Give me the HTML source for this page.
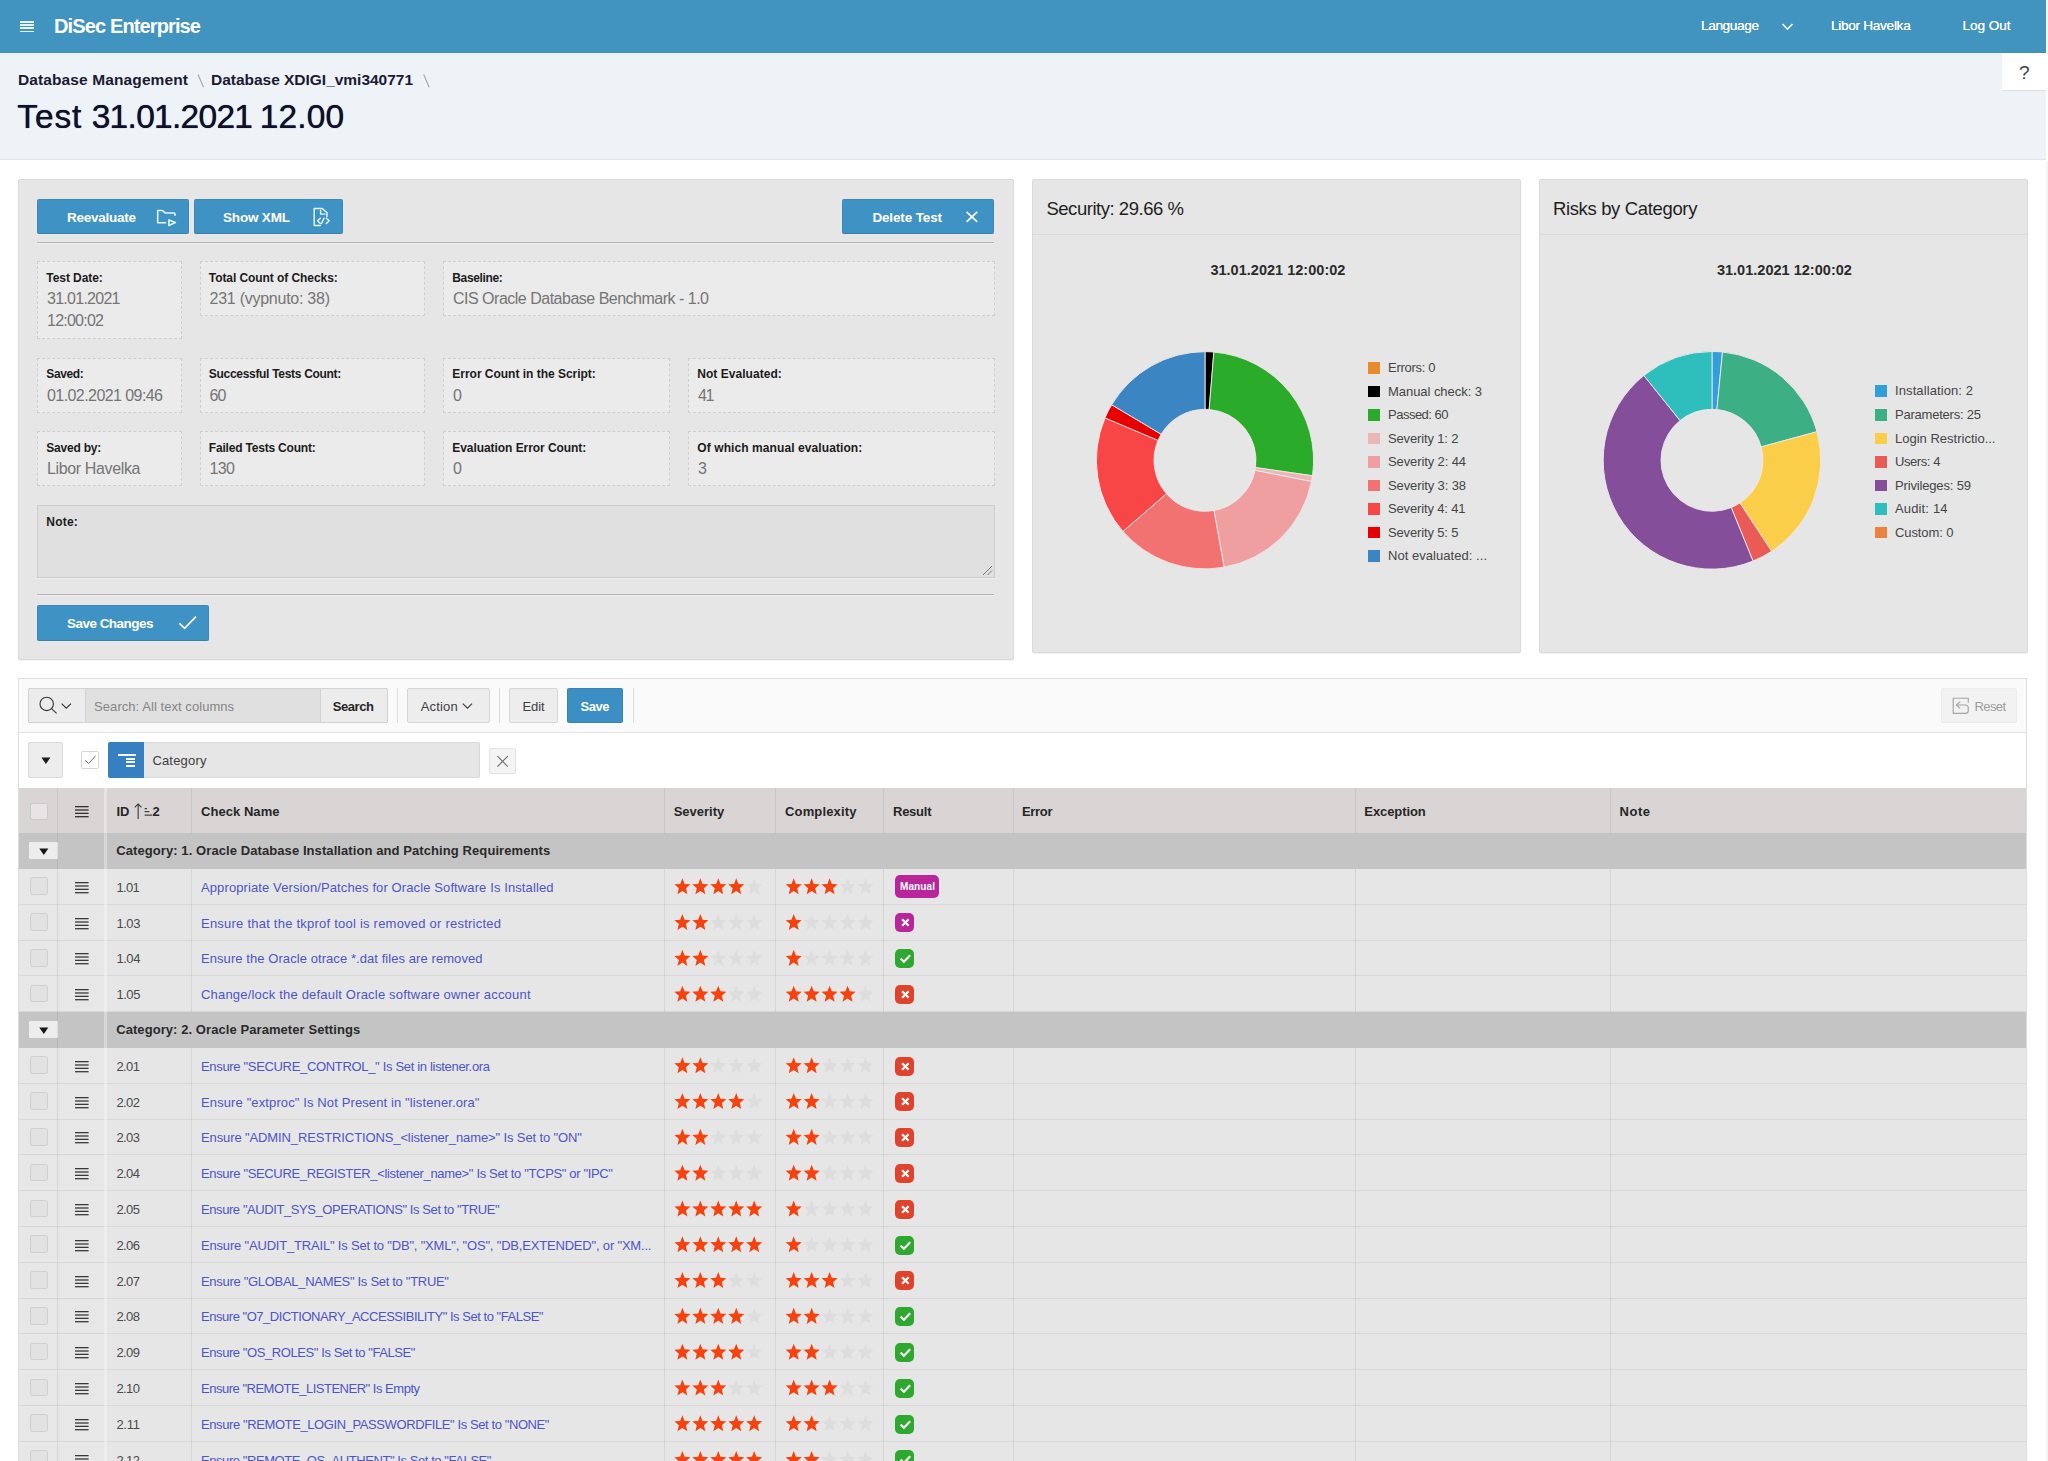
<!DOCTYPE html>
<html lang="en"><head><meta charset="utf-8"><title>DiSec Enterprise</title>
<style>
*{box-sizing:border-box;margin:0;padding:0}
html,body{width:2048px;height:1461px;overflow:hidden;background:#fff}
body{position:relative;font-family:"Liberation Sans", sans-serif;}
body>div,body>svg,body>span{position:absolute}
.t{position:absolute;white-space:pre}
svg{overflow:visible}
</style></head>
<body>
<div style="left:0.00px;top:0.00px;width:2046.00px;height:52.80px;background:#4193c0;"></div>
<div style="left:20.00px;top:21.20px;width:13.50px;height:1.50px;background:#e8f2f8;"></div>
<div style="left:20.00px;top:24.30px;width:13.50px;height:1.50px;background:#e8f2f8;"></div>
<div style="left:20.00px;top:27.40px;width:13.50px;height:1.50px;background:#e8f2f8;"></div>
<div style="left:20.00px;top:30.50px;width:13.50px;height:1.50px;background:#e8f2f8;"></div>
<span class="t" style="left:54.00px;top:16.27px;font-size:20px;line-height:20px;color:#fff;font-weight:700;letter-spacing:-0.872px;">DiSec Enterprise</span>
<span class="t" style="left:1701.00px;top:19.39px;font-size:13.6px;line-height:13.6px;color:#fff;letter-spacing:-0.355px;text-shadow:0 0 0.6px #fff;">Language</span>
<svg style="left:1781px;top:22px" width="13" height="10" viewBox="0 0 13 10"><path d="M1.5 2 L6.5 7.2 L11.5 2" fill="none" stroke="#fff" stroke-width="1.6"/></svg>
<span class="t" style="left:1831.00px;top:19.39px;font-size:13.6px;line-height:13.6px;color:#fff;letter-spacing:-0.285px;text-shadow:0 0 0.6px #fff;">Libor Havelka</span>
<span class="t" style="left:1962.60px;top:19.39px;font-size:13.6px;line-height:13.6px;color:#fff;letter-spacing:-0.062px;text-shadow:0 0 0.6px #fff;">Log Out</span>
<div style="left:0.00px;top:52.80px;width:2046.00px;height:107.60px;background:#eef3f8;border-bottom:1px solid #e1e6ea;"></div>
<div style="left:2002.00px;top:52.50px;width:44.00px;height:37.50px;background:#fff;box-shadow:0 1px 1px rgba(0,0,0,.06);"></div>
<span class="t" style="left:2019.00px;top:62.92px;font-size:19px;line-height:19px;color:#404040;">?</span>
<span class="t" style="left:18.00px;top:72.38px;font-size:15.5px;line-height:15.5px;color:#1a1a33;font-weight:700;letter-spacing:0.112px;">Database Management</span>
<svg style="left:0;top:0" width="500" height="100"><path d="M198 74.6 L203.5 87.3 M423.7 74.6 L429.2 87.3" stroke="#a2a8b2" stroke-width="1.15" fill="none"/></svg>
<span class="t" style="left:211.00px;top:72.38px;font-size:15.5px;line-height:15.5px;color:#1a1a33;font-weight:700;letter-spacing:-0.021px;">Database XDIGI_vmi340771</span>
<span class="t" style="left:17.30px;top:100.14px;font-size:33.5px;line-height:33.5px;color:#10102a;letter-spacing:0.849px;text-shadow:0 0 0.7px #10102a;">Test</span>
<span class="t" style="left:91.70px;top:100.14px;font-size:33.5px;line-height:33.5px;color:#10102a;letter-spacing:-0.708px;text-shadow:0 0 0.7px #10102a;">31.01.2021</span>
<span class="t" style="left:259.80px;top:100.14px;font-size:33.5px;line-height:33.5px;color:#10102a;letter-spacing:0.114px;text-shadow:0 0 0.7px #10102a;">12.00</span>
<div style="left:18.00px;top:179.00px;width:996.00px;height:481.00px;background:#e6e6e6;border:1px solid #dadada;border-radius:2px;box-shadow:0 1px 1px rgba(0,0,0,.05);"></div>
<div style="left:37.00px;top:199.00px;width:152.00px;height:35.20px;background:#3f93c4;border-radius:2px;box-shadow:0 0 0 1px rgba(0,0,0,.05) inset,0 -1px 0 rgba(0,0,0,.07) inset;"></div>
<span class="t" style="left:67.00px;top:210.87px;font-size:13.5px;line-height:13.5px;color:#fff;font-weight:700;letter-spacing:-0.255px;">Reevaluate</span>
<svg style="left:155px;top:208px" width="24" height="20" viewBox="0 0 24 20"><g fill="none" stroke="#e6f6fd" stroke-width="1.6" stroke-linejoin="round" stroke-linecap="round"><path d="M10.6 14.75 H2.7 V2.5 H7.5 L10.3 5.05 H18.8 Q20 5.05 20 6.3 V7.3"/><path d="M13.9 11.9 L20.4 14.55 L13.9 17.4 Z"/></g></svg>
<div style="left:193.50px;top:199.00px;width:149.50px;height:35.20px;background:#3f93c4;border-radius:2px;box-shadow:0 0 0 1px rgba(0,0,0,.05) inset,0 -1px 0 rgba(0,0,0,.07) inset;"></div>
<span class="t" style="left:223.00px;top:210.87px;font-size:13.5px;line-height:13.5px;color:#fff;font-weight:700;letter-spacing:-0.179px;">Show XML</span>
<svg style="left:311px;top:206px" width="20" height="22" viewBox="0 0 20 22"><g fill="none" stroke="#e6f6fd" stroke-width="1.45" stroke-linejoin="round" stroke-linecap="round"><path d="M9.3 19.4 H3.2 V2.5 H11.25 L16 6.7 V10.5"/><path d="M9.6 4.5 V8.1 H14"/><path d="M9.3 12.2 L6.5 14.8 L9.3 17.5"/><path d="M15.3 12.2 L18.2 14.8 L15.3 17.5"/><path d="M12.9 12.2 L10.5 17.5"/></g></svg>
<div style="left:842.00px;top:199.00px;width:152.00px;height:35.20px;background:#3f93c4;border-radius:2px;box-shadow:0 0 0 1px rgba(0,0,0,.05) inset,0 -1px 0 rgba(0,0,0,.07) inset;"></div>
<span class="t" style="left:872.40px;top:210.87px;font-size:13.5px;line-height:13.5px;color:#fff;font-weight:700;letter-spacing:-0.143px;">Delete Test</span>
<svg style="left:964px;top:210px" width="16" height="14" viewBox="0 0 16 14"><path d="M2.6 1.8 L13.2 11.8 M13.2 1.8 L2.6 11.8" fill="none" stroke="#fff" stroke-width="1.7"/></svg>
<div style="left:37.00px;top:241.60px;width:957.00px;height:1.20px;background:#b4b4b4;"></div>
<div style="left:37.00px;top:242.80px;width:957.00px;height:1.00px;background:#eeeeee;"></div>
<div style="left:37.00px;top:261.00px;width:144.70px;height:77.50px;background:#ebebeb;border:1px dashed #cfcfcf;"></div>
<span class="t" style="left:46.30px;top:271.84px;font-size:12px;line-height:12px;color:#1c1c1c;font-weight:700;letter-spacing:-0.069px;">Test Date:</span>
<span class="t" style="left:47.00px;top:291.06px;font-size:16px;line-height:16px;color:#757575;letter-spacing:-0.731px;">31.01.2021</span>
<span class="t" style="left:47.00px;top:313.26px;font-size:16px;line-height:16px;color:#757575;letter-spacing:-0.754px;">12:00:02</span>
<div style="left:199.50px;top:261.00px;width:225.20px;height:55.00px;background:#ebebeb;border:1px dashed #cfcfcf;"></div>
<span class="t" style="left:208.80px;top:271.84px;font-size:12px;line-height:12px;color:#1c1c1c;font-weight:700;letter-spacing:-0.069px;">Total Count of Checks:</span>
<span class="t" style="left:209.50px;top:291.06px;font-size:16px;line-height:16px;color:#757575;letter-spacing:-0.252px;">231 (vypnuto: 38)</span>
<div style="left:443.00px;top:261.00px;width:551.60px;height:55.00px;background:#ebebeb;border:1px dashed #cfcfcf;"></div>
<span class="t" style="left:452.30px;top:271.84px;font-size:12px;line-height:12px;color:#1c1c1c;font-weight:700;letter-spacing:-0.357px;">Baseline:</span>
<span class="t" style="left:453.00px;top:291.06px;font-size:16px;line-height:16px;color:#757575;letter-spacing:-0.500px;">CIS Oracle Database Benchmark - 1.0</span>
<div style="left:37.00px;top:357.60px;width:144.70px;height:55.40px;background:#ebebeb;border:1px dashed #cfcfcf;"></div>
<span class="t" style="left:46.30px;top:368.44px;font-size:12px;line-height:12px;color:#1c1c1c;font-weight:700;letter-spacing:-0.372px;">Saved:</span>
<span class="t" style="left:47.00px;top:387.66px;font-size:16px;line-height:16px;color:#757575;letter-spacing:-0.571px;">01.02.2021 09:46</span>
<div style="left:199.50px;top:357.60px;width:225.20px;height:55.40px;background:#ebebeb;border:1px dashed #cfcfcf;"></div>
<span class="t" style="left:208.80px;top:368.44px;font-size:12px;line-height:12px;color:#1c1c1c;font-weight:700;letter-spacing:-0.302px;">Successful Tests Count:</span>
<span class="t" style="left:209.50px;top:387.66px;font-size:16px;line-height:16px;color:#757575;letter-spacing:-0.797px;">60</span>
<div style="left:443.00px;top:357.60px;width:226.70px;height:55.40px;background:#ebebeb;border:1px dashed #cfcfcf;"></div>
<span class="t" style="left:452.30px;top:368.44px;font-size:12px;line-height:12px;color:#1c1c1c;font-weight:700;letter-spacing:-0.020px;">Error Count in the Script:</span>
<span class="t" style="left:453.00px;top:387.66px;font-size:16px;line-height:16px;color:#757575;">0</span>
<div style="left:688.00px;top:357.60px;width:306.60px;height:55.40px;background:#ebebeb;border:1px dashed #cfcfcf;"></div>
<span class="t" style="left:697.30px;top:368.44px;font-size:12px;line-height:12px;color:#1c1c1c;font-weight:700;letter-spacing:0.037px;">Not Evaluated:</span>
<span class="t" style="left:698.00px;top:387.66px;font-size:16px;line-height:16px;color:#757575;letter-spacing:-1.297px;">41</span>
<div style="left:37.00px;top:431.20px;width:144.70px;height:55.00px;background:#ebebeb;border:1px dashed #cfcfcf;"></div>
<span class="t" style="left:46.30px;top:442.04px;font-size:12px;line-height:12px;color:#1c1c1c;font-weight:700;letter-spacing:-0.213px;">Saved by:</span>
<span class="t" style="left:47.00px;top:461.26px;font-size:16px;line-height:16px;color:#757575;letter-spacing:-0.361px;">Libor Havelka</span>
<div style="left:199.50px;top:431.20px;width:225.20px;height:55.00px;background:#ebebeb;border:1px dashed #cfcfcf;"></div>
<span class="t" style="left:208.80px;top:442.04px;font-size:12px;line-height:12px;color:#1c1c1c;font-weight:700;letter-spacing:-0.192px;">Failed Tests Count:</span>
<span class="t" style="left:209.50px;top:461.26px;font-size:16px;line-height:16px;color:#757575;letter-spacing:-0.602px;">130</span>
<div style="left:443.00px;top:431.20px;width:226.70px;height:55.00px;background:#ebebeb;border:1px dashed #cfcfcf;"></div>
<span class="t" style="left:452.30px;top:442.04px;font-size:12px;line-height:12px;color:#1c1c1c;font-weight:700;letter-spacing:-0.061px;">Evaluation Error Count:</span>
<span class="t" style="left:453.00px;top:461.26px;font-size:16px;line-height:16px;color:#757575;">0</span>
<div style="left:688.00px;top:431.20px;width:306.60px;height:55.00px;background:#ebebeb;border:1px dashed #cfcfcf;"></div>
<span class="t" style="left:697.30px;top:442.04px;font-size:12px;line-height:12px;color:#1c1c1c;font-weight:700;letter-spacing:0.088px;">Of which manual evaluation:</span>
<span class="t" style="left:698.00px;top:461.26px;font-size:16px;line-height:16px;color:#757575;">3</span>
<div style="left:37.00px;top:505.40px;width:957.60px;height:72.80px;background:#e0e0e0;border:1px solid #cdcdcd;box-shadow:0 1px 0 rgba(255,255,255,.35);"></div>
<span class="t" style="left:46.30px;top:516.14px;font-size:12px;line-height:12px;color:#1c1c1c;font-weight:700;letter-spacing:0.207px;">Note:</span>
<svg style="left:981px;top:564px" width="12" height="12" viewBox="0 0 12 12"><path d="M2 11 L11 2 M6.5 11 L11 6.5" stroke="#777" stroke-width="1" fill="none"/></svg>
<div style="left:37.00px;top:593.50px;width:957.00px;height:1.20px;background:#b4b4b4;"></div>
<div style="left:37.00px;top:594.70px;width:957.00px;height:1.00px;background:#eeeeee;"></div>
<div style="left:37.00px;top:605.30px;width:172.00px;height:35.50px;background:#3f93c4;border-radius:2px;box-shadow:0 0 0 1px rgba(0,0,0,.05) inset,0 -1px 0 rgba(0,0,0,.07) inset;"></div>
<span class="t" style="left:67.00px;top:616.87px;font-size:13.5px;line-height:13.5px;color:#fff;font-weight:700;letter-spacing:-0.527px;">Save Changes</span>
<svg style="left:177px;top:614px" width="22" height="18" viewBox="0 0 22 18"><path d="M2.4 9.4 L7.6 14.4 L19 2.6" fill="none" stroke="#fff" stroke-width="1.7"/></svg>
<div style="left:1032.00px;top:179.00px;width:489.00px;height:473.50px;background:#e6e6e6;border:1px solid #dadada;border-radius:2px;box-shadow:0 1px 1px rgba(0,0,0,.05);"></div>
<div style="left:1033.00px;top:234.00px;width:487.00px;height:1.00px;background:#dadada;"></div>
<span class="t" style="left:1046.40px;top:199.74px;font-size:18.5px;line-height:18.5px;color:#1f1f1f;letter-spacing:-0.463px;">Security: 29.66 %</span>
<span class="t" style="left:1210.40px;top:263.23px;font-size:14.5px;line-height:14.5px;color:#2b2b2b;font-weight:700;letter-spacing:0.019px;">31.01.2021 12:00:02</span>
<svg style="left:0;top:0" width="2048" height="700" viewBox="0 0 2048 700"><path d="M1205.00 351.70 A108.6 108.6 0 0 1 1213.85 352.06 L1209.16 409.47 A51 51 0 0 0 1205.00 409.30 Z" fill="#000000" stroke="#efe9e9" stroke-width="0.9"/><path d="M1213.85 352.06 A108.6 108.6 0 0 1 1312.49 475.76 L1255.48 467.56 A51 51 0 0 0 1209.16 409.47 Z" fill="#2aab2a" stroke="#efe9e9" stroke-width="0.9"/><path d="M1312.49 475.76 A108.6 108.6 0 0 1 1311.50 481.58 L1255.01 470.29 A51 51 0 0 0 1255.48 467.56 Z" fill="#edb6b6" stroke="#efe9e9" stroke-width="0.9"/><path d="M1311.50 481.58 A108.6 108.6 0 0 1 1224.10 567.21 L1213.97 510.50 A51 51 0 0 0 1255.01 470.29 Z" fill="#ef9f9f" stroke="#efe9e9" stroke-width="0.9"/><path d="M1224.10 567.21 A108.6 108.6 0 0 1 1122.93 531.42 L1166.46 493.70 A51 51 0 0 0 1213.97 510.50 Z" fill="#f27272" stroke="#efe9e9" stroke-width="0.9"/><path d="M1122.93 531.42 A108.6 108.6 0 0 1 1105.02 417.89 L1158.05 440.38 A51 51 0 0 0 1166.46 493.70 Z" fill="#f84545" stroke="#efe9e9" stroke-width="0.9"/><path d="M1105.02 417.89 A108.6 108.6 0 0 1 1111.70 404.73 L1161.18 434.20 A51 51 0 0 0 1158.05 440.38 Z" fill="#e60000" stroke="#efe9e9" stroke-width="0.9"/><path d="M1111.70 404.73 A108.6 108.6 0 0 1 1205.00 351.70 L1205.00 409.30 A51 51 0 0 0 1161.18 434.20 Z" fill="#3a85c2" stroke="#efe9e9" stroke-width="0.9"/></svg>
<div style="left:1368.00px;top:362.00px;width:12.00px;height:11.60px;background:#e88b2e;"></div>
<span class="t" style="left:1388.00px;top:361.00px;font-size:13px;line-height:13px;color:#454545;letter-spacing:-0.293px;">Errors: 0</span>
<div style="left:1368.00px;top:385.55px;width:12.00px;height:11.60px;background:#000000;"></div>
<span class="t" style="left:1388.00px;top:384.55px;font-size:13px;line-height:13px;color:#454545;letter-spacing:-0.048px;">Manual check: 3</span>
<div style="left:1368.00px;top:409.10px;width:12.00px;height:11.60px;background:#2aab2a;"></div>
<span class="t" style="left:1388.00px;top:408.10px;font-size:13px;line-height:13px;color:#454545;letter-spacing:-0.505px;">Passed: 60</span>
<div style="left:1368.00px;top:432.65px;width:12.00px;height:11.60px;background:#edb6b6;"></div>
<span class="t" style="left:1388.00px;top:431.65px;font-size:13px;line-height:13px;color:#454545;letter-spacing:-0.147px;">Severity 1: 2</span>
<div style="left:1368.00px;top:456.20px;width:12.00px;height:11.60px;background:#ef9f9f;"></div>
<span class="t" style="left:1388.00px;top:455.20px;font-size:13px;line-height:13px;color:#454545;letter-spacing:-0.115px;">Severity 2: 44</span>
<div style="left:1368.00px;top:479.75px;width:12.00px;height:11.60px;background:#f27272;"></div>
<span class="t" style="left:1388.00px;top:478.75px;font-size:13px;line-height:13px;color:#454545;letter-spacing:-0.115px;">Severity 3: 38</span>
<div style="left:1368.00px;top:503.30px;width:12.00px;height:11.60px;background:#f84545;"></div>
<span class="t" style="left:1388.00px;top:502.30px;font-size:13px;line-height:13px;color:#454545;letter-spacing:-0.154px;">Severity 4: 41</span>
<div style="left:1368.00px;top:526.85px;width:12.00px;height:11.60px;background:#e60000;"></div>
<span class="t" style="left:1388.00px;top:525.85px;font-size:13px;line-height:13px;color:#454545;letter-spacing:-0.147px;">Severity 5: 5</span>
<div style="left:1368.00px;top:550.40px;width:12.00px;height:11.60px;background:#3a85c2;"></div>
<span class="t" style="left:1388.00px;top:549.40px;font-size:13px;line-height:13px;color:#454545;letter-spacing:0.042px;">Not evaluated: ...</span>
<div style="left:1538.50px;top:179.00px;width:489.00px;height:473.50px;background:#e6e6e6;border:1px solid #dadada;border-radius:2px;box-shadow:0 1px 1px rgba(0,0,0,.05);"></div>
<div style="left:1539.50px;top:234.00px;width:487.00px;height:1.00px;background:#dadada;"></div>
<span class="t" style="left:1552.90px;top:199.74px;font-size:18.5px;line-height:18.5px;color:#1f1f1f;letter-spacing:-0.351px;">Risks by Category</span>
<span class="t" style="left:1716.90px;top:263.23px;font-size:14.5px;line-height:14.5px;color:#2b2b2b;font-weight:700;letter-spacing:0.019px;">31.01.2021 12:00:02</span>
<svg style="left:0;top:0" width="2048" height="700" viewBox="0 0 2048 700"><path d="M1712.00 351.50 A108.8 108.8 0 0 1 1722.50 352.01 L1716.92 409.54 A51 51 0 0 0 1712.00 409.30 Z" fill="#309fdb" stroke="#efe9e9" stroke-width="0.9"/><path d="M1722.50 352.01 A108.8 108.8 0 0 1 1816.98 431.72 L1761.21 446.90 A51 51 0 0 0 1716.92 409.54 Z" fill="#3caf85" stroke="#efe9e9" stroke-width="0.9"/><path d="M1816.98 431.72 A108.8 108.8 0 0 1 1771.62 551.31 L1739.95 502.96 A51 51 0 0 0 1761.21 446.90 Z" fill="#fbce4a" stroke="#efe9e9" stroke-width="0.9"/><path d="M1771.62 551.31 A108.8 108.8 0 0 1 1753.03 561.07 L1731.23 507.53 A51 51 0 0 0 1739.95 502.96 Z" fill="#e95b54" stroke="#efe9e9" stroke-width="0.9"/><path d="M1753.03 561.07 A108.8 108.8 0 0 1 1643.87 375.47 L1680.06 420.54 A51 51 0 0 0 1731.23 507.53 Z" fill="#854e9b" stroke="#efe9e9" stroke-width="0.9"/><path d="M1643.87 375.47 A108.8 108.8 0 0 1 1712.00 351.50 L1712.00 409.30 A51 51 0 0 0 1680.06 420.54 Z" fill="#2ebfbc" stroke="#efe9e9" stroke-width="0.9"/></svg>
<div style="left:1875.00px;top:385.40px;width:12.00px;height:11.60px;background:#309fdb;"></div>
<span class="t" style="left:1895.00px;top:384.40px;font-size:13px;line-height:13px;color:#454545;letter-spacing:0.099px;">Installation: 2</span>
<div style="left:1875.00px;top:408.95px;width:12.00px;height:11.60px;background:#3caf85;"></div>
<span class="t" style="left:1895.00px;top:407.95px;font-size:13px;line-height:13px;color:#454545;letter-spacing:-0.221px;">Parameters: 25</span>
<div style="left:1875.00px;top:432.50px;width:12.00px;height:11.60px;background:#fbce4a;"></div>
<span class="t" style="left:1895.00px;top:431.50px;font-size:13px;line-height:13px;color:#454545;letter-spacing:0.003px;">Login Restrictio...</span>
<div style="left:1875.00px;top:456.05px;width:12.00px;height:11.60px;background:#e95b54;"></div>
<span class="t" style="left:1895.00px;top:455.05px;font-size:13px;line-height:13px;color:#454545;letter-spacing:-0.415px;">Users: 4</span>
<div style="left:1875.00px;top:479.60px;width:12.00px;height:11.60px;background:#854e9b;"></div>
<span class="t" style="left:1895.00px;top:478.60px;font-size:13px;line-height:13px;color:#454545;letter-spacing:-0.157px;">Privileges: 59</span>
<div style="left:1875.00px;top:503.15px;width:12.00px;height:11.60px;background:#2ebfbc;"></div>
<span class="t" style="left:1895.00px;top:502.15px;font-size:13px;line-height:13px;color:#454545;letter-spacing:0.146px;">Audit: 14</span>
<div style="left:1875.00px;top:526.70px;width:12.00px;height:11.60px;background:#ed813e;"></div>
<span class="t" style="left:1895.00px;top:525.70px;font-size:13px;line-height:13px;color:#454545;letter-spacing:-0.094px;">Custom: 0</span>
<div style="left:18.00px;top:678.00px;width:2009.00px;height:800.00px;background:#fff;border:1px solid #dedede;"></div>
<div style="left:19.00px;top:679.00px;width:2007.00px;height:53.50px;background:#fafafa;border-bottom:1px solid #e4e4e4;"></div>
<div style="left:28.00px;top:688.00px;width:360.00px;height:35.00px;background:#e0e0e0;border:1px solid #d2d2d2;border-radius:2px;"></div>
<div style="left:28.00px;top:688.00px;width:57.50px;height:35.00px;background:#ececec;border:1px solid #d2d2d2;border-radius:2px 0 0 2px;"></div>
<div style="left:319.50px;top:688.00px;width:68.50px;height:35.00px;background:#ececec;border:1px solid #d2d2d2;border-radius:0 2px 2px 0;"></div>
<svg style="left:36px;top:693.2px" width="40" height="24" viewBox="0 0 40 24"><g fill="none" stroke="#383838" stroke-width="1.15"><circle cx="10.7" cy="10.9" r="6.7"/><path d="M15.5 15.7 L20.6 20.4"/><path d="M25.6 10.6 L30.3 15.2 L35 10.6" stroke-width="1.2"/></g></svg>
<span class="t" style="left:94.10px;top:699.60px;font-size:13px;line-height:13px;color:#858585;letter-spacing:0.055px;">Search: All text columns</span>
<span class="t" style="left:332.70px;top:699.60px;font-size:13px;line-height:13px;color:#262626;font-weight:700;letter-spacing:-0.435px;">Search</span>
<div style="left:397.00px;top:688.00px;width:1.00px;height:35.00px;background:#dcdcdc;"></div>
<div style="left:407.00px;top:688.00px;width:83.00px;height:35.00px;background:#ededed;border:1px solid #d6d6d6;border-radius:2px;"></div>
<span class="t" style="left:420.70px;top:699.60px;font-size:13px;line-height:13px;color:#404040;letter-spacing:0.172px;">Action</span>
<svg style="left:461px;top:701px" width="13" height="10" viewBox="0 0 13 10"><path d="M1.8 2.6 L6.4 7.2 L11 2.6" fill="none" stroke="#404040" stroke-width="1.25"/></svg>
<div style="left:499.00px;top:688.00px;width:1.00px;height:35.00px;background:#dcdcdc;"></div>
<div style="left:509.00px;top:688.00px;width:49.00px;height:35.00px;background:#ededed;border:1px solid #d6d6d6;border-radius:2px;"></div>
<span class="t" style="left:522.50px;top:699.60px;font-size:13px;line-height:13px;color:#404040;letter-spacing:-0.135px;">Edit</span>
<div style="left:567.00px;top:687.70px;width:56.30px;height:35.60px;background:#3b8fc4;border-radius:2px;box-shadow:0 0 0 1px rgba(0,0,0,.08) inset;"></div>
<span class="t" style="left:580.60px;top:699.60px;font-size:13px;line-height:13px;color:#fff;font-weight:700;letter-spacing:-0.458px;">Save</span>
<div style="left:632.50px;top:688.00px;width:1.00px;height:35.00px;background:#dcdcdc;"></div>
<div style="left:1940.50px;top:688.00px;width:76.80px;height:34.80px;background:#f2f2f2;border:1px solid #ececec;border-radius:2px;"></div>
<svg style="left:1951px;top:696px" width="20" height="20" viewBox="0 0 20 20"><g fill="none" stroke="#a4a4a4" stroke-width="1.15" stroke-linejoin="round" stroke-linecap="round"><path d="M17.3 6.2 V2.2 H2.2 V17.4 H14.2 Q17.3 17.4 17.3 14.4 V12.2 Q17.3 9 13.8 9 H5.8"/><path d="M8.8 5.8 L5.5 9 L8.8 12.2"/></g></svg>
<span class="t" style="left:1974.60px;top:699.60px;font-size:13px;line-height:13px;color:#9c9c9c;letter-spacing:-0.617px;">Reset</span>
<div style="left:28.00px;top:742.40px;width:35.30px;height:35.20px;background:#ededed;border:1px solid #dadada;border-radius:2px;"></div>
<svg style="left:41px;top:756.5px" width="10" height="8" viewBox="0 0 10 8"><path d="M0.4 0.6 H9.4 L4.9 7 Z" fill="#1c1c1c"/></svg>
<div style="left:81.30px;top:751.00px;width:18.00px;height:17.80px;background:#fff;border:1px solid #d6d6d6;border-radius:2px;"></div>
<svg style="left:83px;top:753px" width="15" height="14" viewBox="0 0 15 14"><path d="M2.2 7.4 L5.6 10.6 L12.6 2.8" fill="none" stroke="#6a6a6a" stroke-width="1"/></svg>
<div style="left:108.30px;top:742.40px;width:371.40px;height:35.20px;background:#e6e6e6;border:1px solid #d8d8d8;border-radius:2px;"></div>
<div style="left:108.30px;top:742.40px;width:35.80px;height:35.20px;background:#3680c2;border-radius:2px 0 0 2px;"></div>
<div style="left:117.50px;top:754.20px;width:18.00px;height:1.70px;background:#f2f8fd;"></div>
<div style="left:126.30px;top:757.90px;width:9.20px;height:1.70px;background:#f2f8fd;"></div>
<div style="left:126.30px;top:761.40px;width:9.20px;height:1.70px;background:#f2f8fd;"></div>
<div style="left:126.30px;top:764.90px;width:9.20px;height:1.70px;background:#f2f8fd;"></div>
<span class="t" style="left:152.40px;top:753.60px;font-size:13px;line-height:13px;color:#404040;letter-spacing:0.179px;">Category</span>
<div style="left:489.30px;top:747.80px;width:26.40px;height:26.20px;background:#f4f4f4;border:1px solid #e2e2e2;border-radius:2px;"></div>
<svg style="left:496px;top:755px" width="13" height="13" viewBox="0 0 13 13"><path d="M1.4 1.2 L11.8 11.6 M11.8 1.2 L1.4 11.6" fill="none" stroke="#6a6a6a" stroke-width="1.1"/></svg>
<div style="left:19.00px;top:788.20px;width:2007.00px;height:45.10px;background:#d9d5d5;"></div>
<div style="left:29.50px;top:802.50px;width:18.00px;height:17.70px;background:#e6e4e4;border:1px solid #cbc8c8;border-radius:2.5px;"></div>
<svg style="left:74.50px;top:805.80px" width="14" height="12" viewBox="0 0 14 12"><rect x="0" y="0.00" width="13.6" height="1.3" fill="#303030"/><rect x="0" y="3.35" width="13.6" height="1.3" fill="#303030"/><rect x="0" y="6.70" width="13.6" height="1.3" fill="#303030"/><rect x="0" y="10.05" width="13.6" height="1.3" fill="#303030"/></svg>
<span class="t" style="left:116.40px;top:805.20px;font-size:13px;line-height:13px;color:#262626;font-weight:700;">ID</span>
<span class="t" style="left:201.00px;top:805.20px;font-size:13px;line-height:13px;color:#262626;font-weight:700;letter-spacing:0.050px;">Check Name</span>
<span class="t" style="left:673.70px;top:805.20px;font-size:13px;line-height:13px;color:#262626;font-weight:700;letter-spacing:-0.013px;">Severity</span>
<span class="t" style="left:785.00px;top:805.20px;font-size:13px;line-height:13px;color:#262626;font-weight:700;letter-spacing:0.158px;">Complexity</span>
<span class="t" style="left:893.00px;top:805.20px;font-size:13px;line-height:13px;color:#262626;font-weight:700;letter-spacing:-0.247px;">Result</span>
<span class="t" style="left:1022.00px;top:805.20px;font-size:13px;line-height:13px;color:#262626;font-weight:700;letter-spacing:-0.324px;">Error</span>
<span class="t" style="left:1364.30px;top:805.20px;font-size:13px;line-height:13px;color:#262626;font-weight:700;letter-spacing:-0.078px;">Exception</span>
<span class="t" style="left:1619.50px;top:805.20px;font-size:13px;line-height:13px;color:#262626;font-weight:700;letter-spacing:0.536px;">Note</span>
<svg style="left:133px;top:803px" width="28" height="17" viewBox="0 0 28 17"><g fill="none" stroke="#333" stroke-width="1.05"><path d="M5.15 15.9 V1.2 M1.8 4.4 L5.15 1 L8.5 4.4"/></g><g stroke="#444" stroke-width="1.25"><path d="M11.6 5.6 H14 M11.6 8.7 H16.4 M11.6 12.0 H19.2"/></g></svg>
<span class="t" style="left:152.60px;top:805.20px;font-size:13px;line-height:13px;color:#262626;font-weight:700;letter-spacing:-0.634px;">2</span>
<div style="left:19.00px;top:833.30px;width:2007.00px;height:627.70px;background:#e6e6e6;"></div>
<div style="left:19.00px;top:833.30px;width:84.60px;height:627.70px;background:#e7e7e7;"></div>
<div style="left:19.00px;top:833.30px;width:2007.00px;height:35.80px;background:#c4c4c4;"></div>
<div style="left:28.50px;top:842.30px;width:29.80px;height:16.30px;background:#ededed;border-radius:1px;"></div>
<svg style="left:39px;top:847.50px" width="10" height="8" viewBox="0 0 10 8"><path d="M0.3 0.5 H9.3 L4.8 6.9 Z" fill="#161616"/></svg>
<span class="t" style="left:116.20px;top:844.30px;font-size:13px;line-height:13px;color:#2a2a2a;font-weight:700;letter-spacing:0.085px;">Category: 1. Oracle Database Installation and Patching Requirements</span>
<div style="left:19.00px;top:904.00px;width:2007.00px;height:1.00px;background:#d8d8d8;"></div>
<div style="left:29.50px;top:877.40px;width:18.00px;height:17.70px;background:#e2e2e2;border:1px solid #cfcfcf;border-radius:2.5px;"></div>
<svg style="left:74.50px;top:881.80px" width="14" height="12" viewBox="0 0 14 12"><rect x="0" y="0.00" width="13.6" height="1.3" fill="#3a3a3a"/><rect x="0" y="3.35" width="13.6" height="1.3" fill="#3a3a3a"/><rect x="0" y="6.70" width="13.6" height="1.3" fill="#3a3a3a"/><rect x="0" y="10.05" width="13.6" height="1.3" fill="#3a3a3a"/></svg>
<span class="t" style="left:116.40px;top:880.80px;font-size:13px;line-height:13px;color:#4a4a4a;letter-spacing:-0.638px;">1.01</span>
<span class="t" style="left:201.00px;top:880.80px;font-size:13px;line-height:13px;color:#4b55c6;letter-spacing:0.108px;">Appropriate Version/Patches for Oracle Software Is Installed</span>
<div style="left:895.40px;top:875.40px;width:44.10px;height:22.80px;background:#b8269a;border-radius:5px;"></div>
<span class="t" style="left:900.00px;top:882.23px;font-size:10px;line-height:10px;color:#fff;font-weight:700;letter-spacing:0.109px;">Manual</span>
<div style="left:19.00px;top:940.00px;width:2007.00px;height:1.00px;background:#d8d8d8;"></div>
<div style="left:29.50px;top:913.20px;width:18.00px;height:17.70px;background:#e2e2e2;border:1px solid #cfcfcf;border-radius:2.5px;"></div>
<svg style="left:74.50px;top:917.60px" width="14" height="12" viewBox="0 0 14 12"><rect x="0" y="0.00" width="13.6" height="1.3" fill="#3a3a3a"/><rect x="0" y="3.35" width="13.6" height="1.3" fill="#3a3a3a"/><rect x="0" y="6.70" width="13.6" height="1.3" fill="#3a3a3a"/><rect x="0" y="10.05" width="13.6" height="1.3" fill="#3a3a3a"/></svg>
<span class="t" style="left:116.40px;top:916.60px;font-size:13px;line-height:13px;color:#4a4a4a;letter-spacing:-0.438px;">1.03</span>
<span class="t" style="left:201.00px;top:916.60px;font-size:13px;line-height:13px;color:#4b55c6;letter-spacing:0.229px;">Ensure that the tkprof tool is removed or restricted</span>
<div style="left:895.40px;top:913.30px;width:18.70px;height:19.00px;background:#b8269a;border-radius:5px;"></div>
<svg style="left:895.5px;top:913.30px" width="19" height="19" viewBox="0 0 19 19"><path d="M6.1 6.2 L12.6 12.7 M12.6 6.2 L6.1 12.7" fill="none" stroke="#fff" stroke-width="2.3"/></svg>
<div style="left:19.00px;top:975.00px;width:2007.00px;height:1.00px;background:#d8d8d8;"></div>
<div style="left:29.50px;top:949.00px;width:18.00px;height:17.70px;background:#e2e2e2;border:1px solid #cfcfcf;border-radius:2.5px;"></div>
<svg style="left:74.50px;top:953.40px" width="14" height="12" viewBox="0 0 14 12"><rect x="0" y="0.00" width="13.6" height="1.3" fill="#3a3a3a"/><rect x="0" y="3.35" width="13.6" height="1.3" fill="#3a3a3a"/><rect x="0" y="6.70" width="13.6" height="1.3" fill="#3a3a3a"/><rect x="0" y="10.05" width="13.6" height="1.3" fill="#3a3a3a"/></svg>
<span class="t" style="left:116.40px;top:952.40px;font-size:13px;line-height:13px;color:#4a4a4a;letter-spacing:-0.438px;">1.04</span>
<span class="t" style="left:201.00px;top:952.40px;font-size:13px;line-height:13px;color:#4b55c6;letter-spacing:0.070px;">Ensure the Oracle otrace *.dat files are removed</span>
<div style="left:895.40px;top:949.10px;width:18.70px;height:19.00px;background:#2ea82e;border-radius:5px;"></div>
<svg style="left:895.5px;top:949.10px" width="19" height="19" viewBox="0 0 19 19"><path d="M4.6 9.6 L7.9 12.8 L14.2 6.2" fill="none" stroke="#fff" stroke-width="2.1"/></svg>
<div style="left:19.00px;top:1011.00px;width:2007.00px;height:1.00px;background:#d8d8d8;"></div>
<div style="left:29.50px;top:984.80px;width:18.00px;height:17.70px;background:#e2e2e2;border:1px solid #cfcfcf;border-radius:2.5px;"></div>
<svg style="left:74.50px;top:989.20px" width="14" height="12" viewBox="0 0 14 12"><rect x="0" y="0.00" width="13.6" height="1.3" fill="#3a3a3a"/><rect x="0" y="3.35" width="13.6" height="1.3" fill="#3a3a3a"/><rect x="0" y="6.70" width="13.6" height="1.3" fill="#3a3a3a"/><rect x="0" y="10.05" width="13.6" height="1.3" fill="#3a3a3a"/></svg>
<span class="t" style="left:116.40px;top:988.20px;font-size:13px;line-height:13px;color:#4a4a4a;letter-spacing:-0.438px;">1.05</span>
<span class="t" style="left:201.00px;top:988.20px;font-size:13px;line-height:13px;color:#4b55c6;letter-spacing:0.194px;">Change/lock the default Oracle software owner account</span>
<div style="left:895.40px;top:984.90px;width:18.70px;height:19.00px;background:#e0432b;border-radius:5px;"></div>
<svg style="left:895.5px;top:984.90px" width="19" height="19" viewBox="0 0 19 19"><path d="M6.1 6.2 L12.6 12.7 M12.6 6.2 L6.1 12.7" fill="none" stroke="#fff" stroke-width="2.3"/></svg>
<div style="left:19.00px;top:1012.30px;width:2007.00px;height:35.80px;background:#c4c4c4;"></div>
<div style="left:28.50px;top:1021.30px;width:29.80px;height:16.30px;background:#ededed;border-radius:1px;"></div>
<svg style="left:39px;top:1026.50px" width="10" height="8" viewBox="0 0 10 8"><path d="M0.3 0.5 H9.3 L4.8 6.9 Z" fill="#161616"/></svg>
<span class="t" style="left:116.20px;top:1023.30px;font-size:13px;line-height:13px;color:#2a2a2a;font-weight:700;letter-spacing:0.072px;">Category: 2. Oracle Parameter Settings</span>
<div style="left:19.00px;top:1083.00px;width:2007.00px;height:1.00px;background:#d8d8d8;"></div>
<div style="left:29.50px;top:1056.40px;width:18.00px;height:17.70px;background:#e2e2e2;border:1px solid #cfcfcf;border-radius:2.5px;"></div>
<svg style="left:74.50px;top:1060.80px" width="14" height="12" viewBox="0 0 14 12"><rect x="0" y="0.00" width="13.6" height="1.3" fill="#3a3a3a"/><rect x="0" y="3.35" width="13.6" height="1.3" fill="#3a3a3a"/><rect x="0" y="6.70" width="13.6" height="1.3" fill="#3a3a3a"/><rect x="0" y="10.05" width="13.6" height="1.3" fill="#3a3a3a"/></svg>
<span class="t" style="left:116.40px;top:1059.80px;font-size:13px;line-height:13px;color:#4a4a4a;letter-spacing:-0.604px;">2.01</span>
<span class="t" style="left:201.00px;top:1059.80px;font-size:13px;line-height:13px;color:#4b55c6;letter-spacing:-0.326px;">Ensure "SECURE_CONTROL_" Is Set in listener.ora</span>
<div style="left:895.40px;top:1056.50px;width:18.70px;height:19.00px;background:#e0432b;border-radius:5px;"></div>
<svg style="left:895.5px;top:1056.50px" width="19" height="19" viewBox="0 0 19 19"><path d="M6.1 6.2 L12.6 12.7 M12.6 6.2 L6.1 12.7" fill="none" stroke="#fff" stroke-width="2.3"/></svg>
<div style="left:19.00px;top:1119.00px;width:2007.00px;height:1.00px;background:#d8d8d8;"></div>
<div style="left:29.50px;top:1092.20px;width:18.00px;height:17.70px;background:#e2e2e2;border:1px solid #cfcfcf;border-radius:2.5px;"></div>
<svg style="left:74.50px;top:1096.60px" width="14" height="12" viewBox="0 0 14 12"><rect x="0" y="0.00" width="13.6" height="1.3" fill="#3a3a3a"/><rect x="0" y="3.35" width="13.6" height="1.3" fill="#3a3a3a"/><rect x="0" y="6.70" width="13.6" height="1.3" fill="#3a3a3a"/><rect x="0" y="10.05" width="13.6" height="1.3" fill="#3a3a3a"/></svg>
<span class="t" style="left:116.40px;top:1095.60px;font-size:13px;line-height:13px;color:#4a4a4a;letter-spacing:-0.604px;">2.02</span>
<span class="t" style="left:201.00px;top:1095.60px;font-size:13px;line-height:13px;color:#4b55c6;letter-spacing:0.118px;">Ensure "extproc" Is Not Present in "listener.ora"</span>
<div style="left:895.40px;top:1092.30px;width:18.70px;height:19.00px;background:#e0432b;border-radius:5px;"></div>
<svg style="left:895.5px;top:1092.30px" width="19" height="19" viewBox="0 0 19 19"><path d="M6.1 6.2 L12.6 12.7 M12.6 6.2 L6.1 12.7" fill="none" stroke="#fff" stroke-width="2.3"/></svg>
<div style="left:19.00px;top:1154.00px;width:2007.00px;height:1.00px;background:#d8d8d8;"></div>
<div style="left:29.50px;top:1128.00px;width:18.00px;height:17.70px;background:#e2e2e2;border:1px solid #cfcfcf;border-radius:2.5px;"></div>
<svg style="left:74.50px;top:1132.40px" width="14" height="12" viewBox="0 0 14 12"><rect x="0" y="0.00" width="13.6" height="1.3" fill="#3a3a3a"/><rect x="0" y="3.35" width="13.6" height="1.3" fill="#3a3a3a"/><rect x="0" y="6.70" width="13.6" height="1.3" fill="#3a3a3a"/><rect x="0" y="10.05" width="13.6" height="1.3" fill="#3a3a3a"/></svg>
<span class="t" style="left:116.40px;top:1131.40px;font-size:13px;line-height:13px;color:#4a4a4a;letter-spacing:-0.604px;">2.03</span>
<span class="t" style="left:201.00px;top:1131.40px;font-size:13px;line-height:13px;color:#4b55c6;letter-spacing:-0.117px;">Ensure "ADMIN_RESTRICTIONS_&lt;listener_name&gt;" Is Set to "ON"</span>
<div style="left:895.40px;top:1128.10px;width:18.70px;height:19.00px;background:#e0432b;border-radius:5px;"></div>
<svg style="left:895.5px;top:1128.10px" width="19" height="19" viewBox="0 0 19 19"><path d="M6.1 6.2 L12.6 12.7 M12.6 6.2 L6.1 12.7" fill="none" stroke="#fff" stroke-width="2.3"/></svg>
<div style="left:19.00px;top:1190.00px;width:2007.00px;height:1.00px;background:#d8d8d8;"></div>
<div style="left:29.50px;top:1163.80px;width:18.00px;height:17.70px;background:#e2e2e2;border:1px solid #cfcfcf;border-radius:2.5px;"></div>
<svg style="left:74.50px;top:1168.20px" width="14" height="12" viewBox="0 0 14 12"><rect x="0" y="0.00" width="13.6" height="1.3" fill="#3a3a3a"/><rect x="0" y="3.35" width="13.6" height="1.3" fill="#3a3a3a"/><rect x="0" y="6.70" width="13.6" height="1.3" fill="#3a3a3a"/><rect x="0" y="10.05" width="13.6" height="1.3" fill="#3a3a3a"/></svg>
<span class="t" style="left:116.40px;top:1167.20px;font-size:13px;line-height:13px;color:#4a4a4a;letter-spacing:-0.604px;">2.04</span>
<span class="t" style="left:201.00px;top:1167.20px;font-size:13px;line-height:13px;color:#4b55c6;letter-spacing:-0.346px;">Ensure "SECURE_REGISTER_&lt;listener_name&gt;" Is Set to "TCPS" or "IPC"</span>
<div style="left:895.40px;top:1163.90px;width:18.70px;height:19.00px;background:#e0432b;border-radius:5px;"></div>
<svg style="left:895.5px;top:1163.90px" width="19" height="19" viewBox="0 0 19 19"><path d="M6.1 6.2 L12.6 12.7 M12.6 6.2 L6.1 12.7" fill="none" stroke="#fff" stroke-width="2.3"/></svg>
<div style="left:19.00px;top:1226.00px;width:2007.00px;height:1.00px;background:#d8d8d8;"></div>
<div style="left:29.50px;top:1199.60px;width:18.00px;height:17.70px;background:#e2e2e2;border:1px solid #cfcfcf;border-radius:2.5px;"></div>
<svg style="left:74.50px;top:1204.00px" width="14" height="12" viewBox="0 0 14 12"><rect x="0" y="0.00" width="13.6" height="1.3" fill="#3a3a3a"/><rect x="0" y="3.35" width="13.6" height="1.3" fill="#3a3a3a"/><rect x="0" y="6.70" width="13.6" height="1.3" fill="#3a3a3a"/><rect x="0" y="10.05" width="13.6" height="1.3" fill="#3a3a3a"/></svg>
<span class="t" style="left:116.40px;top:1203.00px;font-size:13px;line-height:13px;color:#4a4a4a;letter-spacing:-0.604px;">2.05</span>
<span class="t" style="left:201.00px;top:1203.00px;font-size:13px;line-height:13px;color:#4b55c6;letter-spacing:-0.418px;">Ensure "AUDIT_SYS_OPERATIONS" Is Set to "TRUE"</span>
<div style="left:895.40px;top:1199.70px;width:18.70px;height:19.00px;background:#e0432b;border-radius:5px;"></div>
<svg style="left:895.5px;top:1199.70px" width="19" height="19" viewBox="0 0 19 19"><path d="M6.1 6.2 L12.6 12.7 M12.6 6.2 L6.1 12.7" fill="none" stroke="#fff" stroke-width="2.3"/></svg>
<div style="left:19.00px;top:1262.00px;width:2007.00px;height:1.00px;background:#d8d8d8;"></div>
<div style="left:29.50px;top:1235.40px;width:18.00px;height:17.70px;background:#e2e2e2;border:1px solid #cfcfcf;border-radius:2.5px;"></div>
<svg style="left:74.50px;top:1239.80px" width="14" height="12" viewBox="0 0 14 12"><rect x="0" y="0.00" width="13.6" height="1.3" fill="#3a3a3a"/><rect x="0" y="3.35" width="13.6" height="1.3" fill="#3a3a3a"/><rect x="0" y="6.70" width="13.6" height="1.3" fill="#3a3a3a"/><rect x="0" y="10.05" width="13.6" height="1.3" fill="#3a3a3a"/></svg>
<span class="t" style="left:116.40px;top:1238.80px;font-size:13px;line-height:13px;color:#4a4a4a;letter-spacing:-0.604px;">2.06</span>
<span class="t" style="left:201.00px;top:1238.80px;font-size:13px;line-height:13px;color:#4b55c6;letter-spacing:-0.185px;">Ensure "AUDIT_TRAIL" Is Set to "DB", "XML", "OS", "DB,EXTENDED", or "XM...</span>
<div style="left:895.40px;top:1235.50px;width:18.70px;height:19.00px;background:#2ea82e;border-radius:5px;"></div>
<svg style="left:895.5px;top:1235.50px" width="19" height="19" viewBox="0 0 19 19"><path d="M4.6 9.6 L7.9 12.8 L14.2 6.2" fill="none" stroke="#fff" stroke-width="2.1"/></svg>
<div style="left:19.00px;top:1298.00px;width:2007.00px;height:1.00px;background:#d8d8d8;"></div>
<div style="left:29.50px;top:1271.20px;width:18.00px;height:17.70px;background:#e2e2e2;border:1px solid #cfcfcf;border-radius:2.5px;"></div>
<svg style="left:74.50px;top:1275.60px" width="14" height="12" viewBox="0 0 14 12"><rect x="0" y="0.00" width="13.6" height="1.3" fill="#3a3a3a"/><rect x="0" y="3.35" width="13.6" height="1.3" fill="#3a3a3a"/><rect x="0" y="6.70" width="13.6" height="1.3" fill="#3a3a3a"/><rect x="0" y="10.05" width="13.6" height="1.3" fill="#3a3a3a"/></svg>
<span class="t" style="left:116.40px;top:1274.60px;font-size:13px;line-height:13px;color:#4a4a4a;letter-spacing:-0.604px;">2.07</span>
<span class="t" style="left:201.00px;top:1274.60px;font-size:13px;line-height:13px;color:#4b55c6;letter-spacing:-0.299px;">Ensure "GLOBAL_NAMES" Is Set to "TRUE"</span>
<div style="left:895.40px;top:1271.30px;width:18.70px;height:19.00px;background:#e0432b;border-radius:5px;"></div>
<svg style="left:895.5px;top:1271.30px" width="19" height="19" viewBox="0 0 19 19"><path d="M6.1 6.2 L12.6 12.7 M12.6 6.2 L6.1 12.7" fill="none" stroke="#fff" stroke-width="2.3"/></svg>
<div style="left:19.00px;top:1333.00px;width:2007.00px;height:1.00px;background:#d8d8d8;"></div>
<div style="left:29.50px;top:1307.00px;width:18.00px;height:17.70px;background:#e2e2e2;border:1px solid #cfcfcf;border-radius:2.5px;"></div>
<svg style="left:74.50px;top:1311.40px" width="14" height="12" viewBox="0 0 14 12"><rect x="0" y="0.00" width="13.6" height="1.3" fill="#3a3a3a"/><rect x="0" y="3.35" width="13.6" height="1.3" fill="#3a3a3a"/><rect x="0" y="6.70" width="13.6" height="1.3" fill="#3a3a3a"/><rect x="0" y="10.05" width="13.6" height="1.3" fill="#3a3a3a"/></svg>
<span class="t" style="left:116.40px;top:1310.40px;font-size:13px;line-height:13px;color:#4a4a4a;letter-spacing:-0.604px;">2.08</span>
<span class="t" style="left:201.00px;top:1310.40px;font-size:13px;line-height:13px;color:#4b55c6;letter-spacing:-0.466px;">Ensure "O7_DICTIONARY_ACCESSIBILITY" Is Set to "FALSE"</span>
<div style="left:895.40px;top:1307.10px;width:18.70px;height:19.00px;background:#2ea82e;border-radius:5px;"></div>
<svg style="left:895.5px;top:1307.10px" width="19" height="19" viewBox="0 0 19 19"><path d="M4.6 9.6 L7.9 12.8 L14.2 6.2" fill="none" stroke="#fff" stroke-width="2.1"/></svg>
<div style="left:19.00px;top:1369.00px;width:2007.00px;height:1.00px;background:#d8d8d8;"></div>
<div style="left:29.50px;top:1342.80px;width:18.00px;height:17.70px;background:#e2e2e2;border:1px solid #cfcfcf;border-radius:2.5px;"></div>
<svg style="left:74.50px;top:1347.20px" width="14" height="12" viewBox="0 0 14 12"><rect x="0" y="0.00" width="13.6" height="1.3" fill="#3a3a3a"/><rect x="0" y="3.35" width="13.6" height="1.3" fill="#3a3a3a"/><rect x="0" y="6.70" width="13.6" height="1.3" fill="#3a3a3a"/><rect x="0" y="10.05" width="13.6" height="1.3" fill="#3a3a3a"/></svg>
<span class="t" style="left:116.40px;top:1346.20px;font-size:13px;line-height:13px;color:#4a4a4a;letter-spacing:-0.604px;">2.09</span>
<span class="t" style="left:201.00px;top:1346.20px;font-size:13px;line-height:13px;color:#4b55c6;letter-spacing:-0.419px;">Ensure "OS_ROLES" Is Set to "FALSE"</span>
<div style="left:895.40px;top:1342.90px;width:18.70px;height:19.00px;background:#2ea82e;border-radius:5px;"></div>
<svg style="left:895.5px;top:1342.90px" width="19" height="19" viewBox="0 0 19 19"><path d="M4.6 9.6 L7.9 12.8 L14.2 6.2" fill="none" stroke="#fff" stroke-width="2.1"/></svg>
<div style="left:19.00px;top:1405.00px;width:2007.00px;height:1.00px;background:#d8d8d8;"></div>
<div style="left:29.50px;top:1378.60px;width:18.00px;height:17.70px;background:#e2e2e2;border:1px solid #cfcfcf;border-radius:2.5px;"></div>
<svg style="left:74.50px;top:1383.00px" width="14" height="12" viewBox="0 0 14 12"><rect x="0" y="0.00" width="13.6" height="1.3" fill="#3a3a3a"/><rect x="0" y="3.35" width="13.6" height="1.3" fill="#3a3a3a"/><rect x="0" y="6.70" width="13.6" height="1.3" fill="#3a3a3a"/><rect x="0" y="10.05" width="13.6" height="1.3" fill="#3a3a3a"/></svg>
<span class="t" style="left:116.40px;top:1382.00px;font-size:13px;line-height:13px;color:#4a4a4a;letter-spacing:-0.604px;">2.10</span>
<span class="t" style="left:201.00px;top:1382.00px;font-size:13px;line-height:13px;color:#4b55c6;letter-spacing:-0.488px;">Ensure "REMOTE_LISTENER" Is Empty</span>
<div style="left:895.40px;top:1378.70px;width:18.70px;height:19.00px;background:#2ea82e;border-radius:5px;"></div>
<svg style="left:895.5px;top:1378.70px" width="19" height="19" viewBox="0 0 19 19"><path d="M4.6 9.6 L7.9 12.8 L14.2 6.2" fill="none" stroke="#fff" stroke-width="2.1"/></svg>
<div style="left:19.00px;top:1441.00px;width:2007.00px;height:1.00px;background:#d8d8d8;"></div>
<div style="left:29.50px;top:1414.40px;width:18.00px;height:17.70px;background:#e2e2e2;border:1px solid #cfcfcf;border-radius:2.5px;"></div>
<svg style="left:74.50px;top:1418.80px" width="14" height="12" viewBox="0 0 14 12"><rect x="0" y="0.00" width="13.6" height="1.3" fill="#3a3a3a"/><rect x="0" y="3.35" width="13.6" height="1.3" fill="#3a3a3a"/><rect x="0" y="6.70" width="13.6" height="1.3" fill="#3a3a3a"/><rect x="0" y="10.05" width="13.6" height="1.3" fill="#3a3a3a"/></svg>
<span class="t" style="left:116.40px;top:1417.80px;font-size:13px;line-height:13px;color:#4a4a4a;letter-spacing:-0.281px;">2.11</span>
<span class="t" style="left:201.00px;top:1417.80px;font-size:13px;line-height:13px;color:#4b55c6;letter-spacing:-0.402px;">Ensure "REMOTE_LOGIN_PASSWORDFILE" Is Set to "NONE"</span>
<div style="left:895.40px;top:1414.50px;width:18.70px;height:19.00px;background:#2ea82e;border-radius:5px;"></div>
<svg style="left:895.5px;top:1414.50px" width="19" height="19" viewBox="0 0 19 19"><path d="M4.6 9.6 L7.9 12.8 L14.2 6.2" fill="none" stroke="#fff" stroke-width="2.1"/></svg>
<div style="left:19.00px;top:1477.00px;width:2007.00px;height:1.00px;background:#d8d8d8;"></div>
<div style="left:29.50px;top:1450.20px;width:18.00px;height:17.70px;background:#e2e2e2;border:1px solid #cfcfcf;border-radius:2.5px;"></div>
<svg style="left:74.50px;top:1454.60px" width="14" height="12" viewBox="0 0 14 12"><rect x="0" y="0.00" width="13.6" height="1.3" fill="#3a3a3a"/><rect x="0" y="3.35" width="13.6" height="1.3" fill="#3a3a3a"/><rect x="0" y="6.70" width="13.6" height="1.3" fill="#3a3a3a"/><rect x="0" y="10.05" width="13.6" height="1.3" fill="#3a3a3a"/></svg>
<span class="t" style="left:116.40px;top:1453.60px;font-size:13px;line-height:13px;color:#4a4a4a;letter-spacing:-0.604px;">2.12</span>
<span class="t" style="left:201.00px;top:1453.60px;font-size:13px;line-height:13px;color:#4b55c6;letter-spacing:-0.428px;">Ensure "REMOTE_OS_AUTHENT" Is Set to "FALSE"</span>
<div style="left:895.40px;top:1450.30px;width:18.70px;height:19.00px;background:#2ea82e;border-radius:5px;"></div>
<svg style="left:895.5px;top:1450.30px" width="19" height="19" viewBox="0 0 19 19"><path d="M4.6 9.6 L7.9 12.8 L14.2 6.2" fill="none" stroke="#fff" stroke-width="2.1"/></svg>
<svg style="left:0;top:0" width="2048" height="1461" viewBox="0 0 2048 1461"><path d="M682.40,878.23 L684.59,883.94 L690.44,884.36 L685.94,888.31 L687.37,894.28 L682.40,891.00 L677.43,894.28 L678.86,888.31 L674.36,884.36 L680.21,883.94Z" fill="#f5420e"/><path d="M700.35,878.23 L702.54,883.94 L708.39,884.36 L703.89,888.31 L705.32,894.28 L700.35,891.00 L695.38,894.28 L696.81,888.31 L692.31,884.36 L698.16,883.94Z" fill="#f5420e"/><path d="M718.30,878.23 L720.49,883.94 L726.34,884.36 L721.84,888.31 L723.27,894.28 L718.30,891.00 L713.33,894.28 L714.76,888.31 L710.26,884.36 L716.11,883.94Z" fill="#f5420e"/><path d="M736.25,878.23 L738.44,883.94 L744.29,884.36 L739.79,888.31 L741.22,894.28 L736.25,891.00 L731.28,894.28 L732.71,888.31 L728.21,884.36 L734.06,883.94Z" fill="#f5420e"/><path d="M754.20,878.23 L756.39,883.94 L762.24,884.36 L757.74,888.31 L759.17,894.28 L754.20,891.00 L749.23,894.28 L750.66,888.31 L746.16,884.36 L752.01,883.94Z" fill="#dddddd"/><path d="M793.70,878.23 L795.89,883.94 L801.74,884.36 L797.24,888.31 L798.67,894.28 L793.70,891.00 L788.73,894.28 L790.16,888.31 L785.66,884.36 L791.51,883.94Z" fill="#f5420e"/><path d="M811.65,878.23 L813.84,883.94 L819.69,884.36 L815.19,888.31 L816.62,894.28 L811.65,891.00 L806.68,894.28 L808.11,888.31 L803.61,884.36 L809.46,883.94Z" fill="#f5420e"/><path d="M829.60,878.23 L831.79,883.94 L837.64,884.36 L833.14,888.31 L834.57,894.28 L829.60,891.00 L824.63,894.28 L826.06,888.31 L821.56,884.36 L827.41,883.94Z" fill="#f5420e"/><path d="M847.55,878.23 L849.74,883.94 L855.59,884.36 L851.09,888.31 L852.52,894.28 L847.55,891.00 L842.58,894.28 L844.01,888.31 L839.51,884.36 L845.36,883.94Z" fill="#dddddd"/><path d="M865.50,878.23 L867.69,883.94 L873.54,884.36 L869.04,888.31 L870.47,894.28 L865.50,891.00 L860.53,894.28 L861.96,888.31 L857.46,884.36 L863.31,883.94Z" fill="#dddddd"/><path d="M682.40,914.03 L684.59,919.74 L690.44,920.16 L685.94,924.11 L687.37,930.08 L682.40,926.80 L677.43,930.08 L678.86,924.11 L674.36,920.16 L680.21,919.74Z" fill="#f5420e"/><path d="M700.35,914.03 L702.54,919.74 L708.39,920.16 L703.89,924.11 L705.32,930.08 L700.35,926.80 L695.38,930.08 L696.81,924.11 L692.31,920.16 L698.16,919.74Z" fill="#f5420e"/><path d="M718.30,914.03 L720.49,919.74 L726.34,920.16 L721.84,924.11 L723.27,930.08 L718.30,926.80 L713.33,930.08 L714.76,924.11 L710.26,920.16 L716.11,919.74Z" fill="#dddddd"/><path d="M736.25,914.03 L738.44,919.74 L744.29,920.16 L739.79,924.11 L741.22,930.08 L736.25,926.80 L731.28,930.08 L732.71,924.11 L728.21,920.16 L734.06,919.74Z" fill="#dddddd"/><path d="M754.20,914.03 L756.39,919.74 L762.24,920.16 L757.74,924.11 L759.17,930.08 L754.20,926.80 L749.23,930.08 L750.66,924.11 L746.16,920.16 L752.01,919.74Z" fill="#dddddd"/><path d="M793.70,914.03 L795.89,919.74 L801.74,920.16 L797.24,924.11 L798.67,930.08 L793.70,926.80 L788.73,930.08 L790.16,924.11 L785.66,920.16 L791.51,919.74Z" fill="#f5420e"/><path d="M811.65,914.03 L813.84,919.74 L819.69,920.16 L815.19,924.11 L816.62,930.08 L811.65,926.80 L806.68,930.08 L808.11,924.11 L803.61,920.16 L809.46,919.74Z" fill="#dddddd"/><path d="M829.60,914.03 L831.79,919.74 L837.64,920.16 L833.14,924.11 L834.57,930.08 L829.60,926.80 L824.63,930.08 L826.06,924.11 L821.56,920.16 L827.41,919.74Z" fill="#dddddd"/><path d="M847.55,914.03 L849.74,919.74 L855.59,920.16 L851.09,924.11 L852.52,930.08 L847.55,926.80 L842.58,930.08 L844.01,924.11 L839.51,920.16 L845.36,919.74Z" fill="#dddddd"/><path d="M865.50,914.03 L867.69,919.74 L873.54,920.16 L869.04,924.11 L870.47,930.08 L865.50,926.80 L860.53,930.08 L861.96,924.11 L857.46,920.16 L863.31,919.74Z" fill="#dddddd"/><path d="M682.40,949.83 L684.59,955.54 L690.44,955.96 L685.94,959.91 L687.37,965.88 L682.40,962.60 L677.43,965.88 L678.86,959.91 L674.36,955.96 L680.21,955.54Z" fill="#f5420e"/><path d="M700.35,949.83 L702.54,955.54 L708.39,955.96 L703.89,959.91 L705.32,965.88 L700.35,962.60 L695.38,965.88 L696.81,959.91 L692.31,955.96 L698.16,955.54Z" fill="#f5420e"/><path d="M718.30,949.83 L720.49,955.54 L726.34,955.96 L721.84,959.91 L723.27,965.88 L718.30,962.60 L713.33,965.88 L714.76,959.91 L710.26,955.96 L716.11,955.54Z" fill="#dddddd"/><path d="M736.25,949.83 L738.44,955.54 L744.29,955.96 L739.79,959.91 L741.22,965.88 L736.25,962.60 L731.28,965.88 L732.71,959.91 L728.21,955.96 L734.06,955.54Z" fill="#dddddd"/><path d="M754.20,949.83 L756.39,955.54 L762.24,955.96 L757.74,959.91 L759.17,965.88 L754.20,962.60 L749.23,965.88 L750.66,959.91 L746.16,955.96 L752.01,955.54Z" fill="#dddddd"/><path d="M793.70,949.83 L795.89,955.54 L801.74,955.96 L797.24,959.91 L798.67,965.88 L793.70,962.60 L788.73,965.88 L790.16,959.91 L785.66,955.96 L791.51,955.54Z" fill="#f5420e"/><path d="M811.65,949.83 L813.84,955.54 L819.69,955.96 L815.19,959.91 L816.62,965.88 L811.65,962.60 L806.68,965.88 L808.11,959.91 L803.61,955.96 L809.46,955.54Z" fill="#dddddd"/><path d="M829.60,949.83 L831.79,955.54 L837.64,955.96 L833.14,959.91 L834.57,965.88 L829.60,962.60 L824.63,965.88 L826.06,959.91 L821.56,955.96 L827.41,955.54Z" fill="#dddddd"/><path d="M847.55,949.83 L849.74,955.54 L855.59,955.96 L851.09,959.91 L852.52,965.88 L847.55,962.60 L842.58,965.88 L844.01,959.91 L839.51,955.96 L845.36,955.54Z" fill="#dddddd"/><path d="M865.50,949.83 L867.69,955.54 L873.54,955.96 L869.04,959.91 L870.47,965.88 L865.50,962.60 L860.53,965.88 L861.96,959.91 L857.46,955.96 L863.31,955.54Z" fill="#dddddd"/><path d="M682.40,985.63 L684.59,991.34 L690.44,991.76 L685.94,995.71 L687.37,1001.68 L682.40,998.40 L677.43,1001.68 L678.86,995.71 L674.36,991.76 L680.21,991.34Z" fill="#f5420e"/><path d="M700.35,985.63 L702.54,991.34 L708.39,991.76 L703.89,995.71 L705.32,1001.68 L700.35,998.40 L695.38,1001.68 L696.81,995.71 L692.31,991.76 L698.16,991.34Z" fill="#f5420e"/><path d="M718.30,985.63 L720.49,991.34 L726.34,991.76 L721.84,995.71 L723.27,1001.68 L718.30,998.40 L713.33,1001.68 L714.76,995.71 L710.26,991.76 L716.11,991.34Z" fill="#f5420e"/><path d="M736.25,985.63 L738.44,991.34 L744.29,991.76 L739.79,995.71 L741.22,1001.68 L736.25,998.40 L731.28,1001.68 L732.71,995.71 L728.21,991.76 L734.06,991.34Z" fill="#dddddd"/><path d="M754.20,985.63 L756.39,991.34 L762.24,991.76 L757.74,995.71 L759.17,1001.68 L754.20,998.40 L749.23,1001.68 L750.66,995.71 L746.16,991.76 L752.01,991.34Z" fill="#dddddd"/><path d="M793.70,985.63 L795.89,991.34 L801.74,991.76 L797.24,995.71 L798.67,1001.68 L793.70,998.40 L788.73,1001.68 L790.16,995.71 L785.66,991.76 L791.51,991.34Z" fill="#f5420e"/><path d="M811.65,985.63 L813.84,991.34 L819.69,991.76 L815.19,995.71 L816.62,1001.68 L811.65,998.40 L806.68,1001.68 L808.11,995.71 L803.61,991.76 L809.46,991.34Z" fill="#f5420e"/><path d="M829.60,985.63 L831.79,991.34 L837.64,991.76 L833.14,995.71 L834.57,1001.68 L829.60,998.40 L824.63,1001.68 L826.06,995.71 L821.56,991.76 L827.41,991.34Z" fill="#f5420e"/><path d="M847.55,985.63 L849.74,991.34 L855.59,991.76 L851.09,995.71 L852.52,1001.68 L847.55,998.40 L842.58,1001.68 L844.01,995.71 L839.51,991.76 L845.36,991.34Z" fill="#f5420e"/><path d="M865.50,985.63 L867.69,991.34 L873.54,991.76 L869.04,995.71 L870.47,1001.68 L865.50,998.40 L860.53,1001.68 L861.96,995.71 L857.46,991.76 L863.31,991.34Z" fill="#dddddd"/><path d="M682.40,1057.23 L684.59,1062.94 L690.44,1063.36 L685.94,1067.31 L687.37,1073.28 L682.40,1070.00 L677.43,1073.28 L678.86,1067.31 L674.36,1063.36 L680.21,1062.94Z" fill="#f5420e"/><path d="M700.35,1057.23 L702.54,1062.94 L708.39,1063.36 L703.89,1067.31 L705.32,1073.28 L700.35,1070.00 L695.38,1073.28 L696.81,1067.31 L692.31,1063.36 L698.16,1062.94Z" fill="#f5420e"/><path d="M718.30,1057.23 L720.49,1062.94 L726.34,1063.36 L721.84,1067.31 L723.27,1073.28 L718.30,1070.00 L713.33,1073.28 L714.76,1067.31 L710.26,1063.36 L716.11,1062.94Z" fill="#dddddd"/><path d="M736.25,1057.23 L738.44,1062.94 L744.29,1063.36 L739.79,1067.31 L741.22,1073.28 L736.25,1070.00 L731.28,1073.28 L732.71,1067.31 L728.21,1063.36 L734.06,1062.94Z" fill="#dddddd"/><path d="M754.20,1057.23 L756.39,1062.94 L762.24,1063.36 L757.74,1067.31 L759.17,1073.28 L754.20,1070.00 L749.23,1073.28 L750.66,1067.31 L746.16,1063.36 L752.01,1062.94Z" fill="#dddddd"/><path d="M793.70,1057.23 L795.89,1062.94 L801.74,1063.36 L797.24,1067.31 L798.67,1073.28 L793.70,1070.00 L788.73,1073.28 L790.16,1067.31 L785.66,1063.36 L791.51,1062.94Z" fill="#f5420e"/><path d="M811.65,1057.23 L813.84,1062.94 L819.69,1063.36 L815.19,1067.31 L816.62,1073.28 L811.65,1070.00 L806.68,1073.28 L808.11,1067.31 L803.61,1063.36 L809.46,1062.94Z" fill="#f5420e"/><path d="M829.60,1057.23 L831.79,1062.94 L837.64,1063.36 L833.14,1067.31 L834.57,1073.28 L829.60,1070.00 L824.63,1073.28 L826.06,1067.31 L821.56,1063.36 L827.41,1062.94Z" fill="#dddddd"/><path d="M847.55,1057.23 L849.74,1062.94 L855.59,1063.36 L851.09,1067.31 L852.52,1073.28 L847.55,1070.00 L842.58,1073.28 L844.01,1067.31 L839.51,1063.36 L845.36,1062.94Z" fill="#dddddd"/><path d="M865.50,1057.23 L867.69,1062.94 L873.54,1063.36 L869.04,1067.31 L870.47,1073.28 L865.50,1070.00 L860.53,1073.28 L861.96,1067.31 L857.46,1063.36 L863.31,1062.94Z" fill="#dddddd"/><path d="M682.40,1093.03 L684.59,1098.74 L690.44,1099.16 L685.94,1103.11 L687.37,1109.08 L682.40,1105.80 L677.43,1109.08 L678.86,1103.11 L674.36,1099.16 L680.21,1098.74Z" fill="#f5420e"/><path d="M700.35,1093.03 L702.54,1098.74 L708.39,1099.16 L703.89,1103.11 L705.32,1109.08 L700.35,1105.80 L695.38,1109.08 L696.81,1103.11 L692.31,1099.16 L698.16,1098.74Z" fill="#f5420e"/><path d="M718.30,1093.03 L720.49,1098.74 L726.34,1099.16 L721.84,1103.11 L723.27,1109.08 L718.30,1105.80 L713.33,1109.08 L714.76,1103.11 L710.26,1099.16 L716.11,1098.74Z" fill="#f5420e"/><path d="M736.25,1093.03 L738.44,1098.74 L744.29,1099.16 L739.79,1103.11 L741.22,1109.08 L736.25,1105.80 L731.28,1109.08 L732.71,1103.11 L728.21,1099.16 L734.06,1098.74Z" fill="#f5420e"/><path d="M754.20,1093.03 L756.39,1098.74 L762.24,1099.16 L757.74,1103.11 L759.17,1109.08 L754.20,1105.80 L749.23,1109.08 L750.66,1103.11 L746.16,1099.16 L752.01,1098.74Z" fill="#dddddd"/><path d="M793.70,1093.03 L795.89,1098.74 L801.74,1099.16 L797.24,1103.11 L798.67,1109.08 L793.70,1105.80 L788.73,1109.08 L790.16,1103.11 L785.66,1099.16 L791.51,1098.74Z" fill="#f5420e"/><path d="M811.65,1093.03 L813.84,1098.74 L819.69,1099.16 L815.19,1103.11 L816.62,1109.08 L811.65,1105.80 L806.68,1109.08 L808.11,1103.11 L803.61,1099.16 L809.46,1098.74Z" fill="#f5420e"/><path d="M829.60,1093.03 L831.79,1098.74 L837.64,1099.16 L833.14,1103.11 L834.57,1109.08 L829.60,1105.80 L824.63,1109.08 L826.06,1103.11 L821.56,1099.16 L827.41,1098.74Z" fill="#dddddd"/><path d="M847.55,1093.03 L849.74,1098.74 L855.59,1099.16 L851.09,1103.11 L852.52,1109.08 L847.55,1105.80 L842.58,1109.08 L844.01,1103.11 L839.51,1099.16 L845.36,1098.74Z" fill="#dddddd"/><path d="M865.50,1093.03 L867.69,1098.74 L873.54,1099.16 L869.04,1103.11 L870.47,1109.08 L865.50,1105.80 L860.53,1109.08 L861.96,1103.11 L857.46,1099.16 L863.31,1098.74Z" fill="#dddddd"/><path d="M682.40,1128.83 L684.59,1134.54 L690.44,1134.96 L685.94,1138.91 L687.37,1144.88 L682.40,1141.60 L677.43,1144.88 L678.86,1138.91 L674.36,1134.96 L680.21,1134.54Z" fill="#f5420e"/><path d="M700.35,1128.83 L702.54,1134.54 L708.39,1134.96 L703.89,1138.91 L705.32,1144.88 L700.35,1141.60 L695.38,1144.88 L696.81,1138.91 L692.31,1134.96 L698.16,1134.54Z" fill="#f5420e"/><path d="M718.30,1128.83 L720.49,1134.54 L726.34,1134.96 L721.84,1138.91 L723.27,1144.88 L718.30,1141.60 L713.33,1144.88 L714.76,1138.91 L710.26,1134.96 L716.11,1134.54Z" fill="#dddddd"/><path d="M736.25,1128.83 L738.44,1134.54 L744.29,1134.96 L739.79,1138.91 L741.22,1144.88 L736.25,1141.60 L731.28,1144.88 L732.71,1138.91 L728.21,1134.96 L734.06,1134.54Z" fill="#dddddd"/><path d="M754.20,1128.83 L756.39,1134.54 L762.24,1134.96 L757.74,1138.91 L759.17,1144.88 L754.20,1141.60 L749.23,1144.88 L750.66,1138.91 L746.16,1134.96 L752.01,1134.54Z" fill="#dddddd"/><path d="M793.70,1128.83 L795.89,1134.54 L801.74,1134.96 L797.24,1138.91 L798.67,1144.88 L793.70,1141.60 L788.73,1144.88 L790.16,1138.91 L785.66,1134.96 L791.51,1134.54Z" fill="#f5420e"/><path d="M811.65,1128.83 L813.84,1134.54 L819.69,1134.96 L815.19,1138.91 L816.62,1144.88 L811.65,1141.60 L806.68,1144.88 L808.11,1138.91 L803.61,1134.96 L809.46,1134.54Z" fill="#f5420e"/><path d="M829.60,1128.83 L831.79,1134.54 L837.64,1134.96 L833.14,1138.91 L834.57,1144.88 L829.60,1141.60 L824.63,1144.88 L826.06,1138.91 L821.56,1134.96 L827.41,1134.54Z" fill="#dddddd"/><path d="M847.55,1128.83 L849.74,1134.54 L855.59,1134.96 L851.09,1138.91 L852.52,1144.88 L847.55,1141.60 L842.58,1144.88 L844.01,1138.91 L839.51,1134.96 L845.36,1134.54Z" fill="#dddddd"/><path d="M865.50,1128.83 L867.69,1134.54 L873.54,1134.96 L869.04,1138.91 L870.47,1144.88 L865.50,1141.60 L860.53,1144.88 L861.96,1138.91 L857.46,1134.96 L863.31,1134.54Z" fill="#dddddd"/><path d="M682.40,1164.63 L684.59,1170.34 L690.44,1170.76 L685.94,1174.71 L687.37,1180.68 L682.40,1177.40 L677.43,1180.68 L678.86,1174.71 L674.36,1170.76 L680.21,1170.34Z" fill="#f5420e"/><path d="M700.35,1164.63 L702.54,1170.34 L708.39,1170.76 L703.89,1174.71 L705.32,1180.68 L700.35,1177.40 L695.38,1180.68 L696.81,1174.71 L692.31,1170.76 L698.16,1170.34Z" fill="#f5420e"/><path d="M718.30,1164.63 L720.49,1170.34 L726.34,1170.76 L721.84,1174.71 L723.27,1180.68 L718.30,1177.40 L713.33,1180.68 L714.76,1174.71 L710.26,1170.76 L716.11,1170.34Z" fill="#dddddd"/><path d="M736.25,1164.63 L738.44,1170.34 L744.29,1170.76 L739.79,1174.71 L741.22,1180.68 L736.25,1177.40 L731.28,1180.68 L732.71,1174.71 L728.21,1170.76 L734.06,1170.34Z" fill="#dddddd"/><path d="M754.20,1164.63 L756.39,1170.34 L762.24,1170.76 L757.74,1174.71 L759.17,1180.68 L754.20,1177.40 L749.23,1180.68 L750.66,1174.71 L746.16,1170.76 L752.01,1170.34Z" fill="#dddddd"/><path d="M793.70,1164.63 L795.89,1170.34 L801.74,1170.76 L797.24,1174.71 L798.67,1180.68 L793.70,1177.40 L788.73,1180.68 L790.16,1174.71 L785.66,1170.76 L791.51,1170.34Z" fill="#f5420e"/><path d="M811.65,1164.63 L813.84,1170.34 L819.69,1170.76 L815.19,1174.71 L816.62,1180.68 L811.65,1177.40 L806.68,1180.68 L808.11,1174.71 L803.61,1170.76 L809.46,1170.34Z" fill="#f5420e"/><path d="M829.60,1164.63 L831.79,1170.34 L837.64,1170.76 L833.14,1174.71 L834.57,1180.68 L829.60,1177.40 L824.63,1180.68 L826.06,1174.71 L821.56,1170.76 L827.41,1170.34Z" fill="#dddddd"/><path d="M847.55,1164.63 L849.74,1170.34 L855.59,1170.76 L851.09,1174.71 L852.52,1180.68 L847.55,1177.40 L842.58,1180.68 L844.01,1174.71 L839.51,1170.76 L845.36,1170.34Z" fill="#dddddd"/><path d="M865.50,1164.63 L867.69,1170.34 L873.54,1170.76 L869.04,1174.71 L870.47,1180.68 L865.50,1177.40 L860.53,1180.68 L861.96,1174.71 L857.46,1170.76 L863.31,1170.34Z" fill="#dddddd"/><path d="M682.40,1200.43 L684.59,1206.14 L690.44,1206.56 L685.94,1210.51 L687.37,1216.48 L682.40,1213.20 L677.43,1216.48 L678.86,1210.51 L674.36,1206.56 L680.21,1206.14Z" fill="#f5420e"/><path d="M700.35,1200.43 L702.54,1206.14 L708.39,1206.56 L703.89,1210.51 L705.32,1216.48 L700.35,1213.20 L695.38,1216.48 L696.81,1210.51 L692.31,1206.56 L698.16,1206.14Z" fill="#f5420e"/><path d="M718.30,1200.43 L720.49,1206.14 L726.34,1206.56 L721.84,1210.51 L723.27,1216.48 L718.30,1213.20 L713.33,1216.48 L714.76,1210.51 L710.26,1206.56 L716.11,1206.14Z" fill="#f5420e"/><path d="M736.25,1200.43 L738.44,1206.14 L744.29,1206.56 L739.79,1210.51 L741.22,1216.48 L736.25,1213.20 L731.28,1216.48 L732.71,1210.51 L728.21,1206.56 L734.06,1206.14Z" fill="#f5420e"/><path d="M754.20,1200.43 L756.39,1206.14 L762.24,1206.56 L757.74,1210.51 L759.17,1216.48 L754.20,1213.20 L749.23,1216.48 L750.66,1210.51 L746.16,1206.56 L752.01,1206.14Z" fill="#f5420e"/><path d="M793.70,1200.43 L795.89,1206.14 L801.74,1206.56 L797.24,1210.51 L798.67,1216.48 L793.70,1213.20 L788.73,1216.48 L790.16,1210.51 L785.66,1206.56 L791.51,1206.14Z" fill="#f5420e"/><path d="M811.65,1200.43 L813.84,1206.14 L819.69,1206.56 L815.19,1210.51 L816.62,1216.48 L811.65,1213.20 L806.68,1216.48 L808.11,1210.51 L803.61,1206.56 L809.46,1206.14Z" fill="#dddddd"/><path d="M829.60,1200.43 L831.79,1206.14 L837.64,1206.56 L833.14,1210.51 L834.57,1216.48 L829.60,1213.20 L824.63,1216.48 L826.06,1210.51 L821.56,1206.56 L827.41,1206.14Z" fill="#dddddd"/><path d="M847.55,1200.43 L849.74,1206.14 L855.59,1206.56 L851.09,1210.51 L852.52,1216.48 L847.55,1213.20 L842.58,1216.48 L844.01,1210.51 L839.51,1206.56 L845.36,1206.14Z" fill="#dddddd"/><path d="M865.50,1200.43 L867.69,1206.14 L873.54,1206.56 L869.04,1210.51 L870.47,1216.48 L865.50,1213.20 L860.53,1216.48 L861.96,1210.51 L857.46,1206.56 L863.31,1206.14Z" fill="#dddddd"/><path d="M682.40,1236.23 L684.59,1241.94 L690.44,1242.36 L685.94,1246.31 L687.37,1252.28 L682.40,1249.00 L677.43,1252.28 L678.86,1246.31 L674.36,1242.36 L680.21,1241.94Z" fill="#f5420e"/><path d="M700.35,1236.23 L702.54,1241.94 L708.39,1242.36 L703.89,1246.31 L705.32,1252.28 L700.35,1249.00 L695.38,1252.28 L696.81,1246.31 L692.31,1242.36 L698.16,1241.94Z" fill="#f5420e"/><path d="M718.30,1236.23 L720.49,1241.94 L726.34,1242.36 L721.84,1246.31 L723.27,1252.28 L718.30,1249.00 L713.33,1252.28 L714.76,1246.31 L710.26,1242.36 L716.11,1241.94Z" fill="#f5420e"/><path d="M736.25,1236.23 L738.44,1241.94 L744.29,1242.36 L739.79,1246.31 L741.22,1252.28 L736.25,1249.00 L731.28,1252.28 L732.71,1246.31 L728.21,1242.36 L734.06,1241.94Z" fill="#f5420e"/><path d="M754.20,1236.23 L756.39,1241.94 L762.24,1242.36 L757.74,1246.31 L759.17,1252.28 L754.20,1249.00 L749.23,1252.28 L750.66,1246.31 L746.16,1242.36 L752.01,1241.94Z" fill="#f5420e"/><path d="M793.70,1236.23 L795.89,1241.94 L801.74,1242.36 L797.24,1246.31 L798.67,1252.28 L793.70,1249.00 L788.73,1252.28 L790.16,1246.31 L785.66,1242.36 L791.51,1241.94Z" fill="#f5420e"/><path d="M811.65,1236.23 L813.84,1241.94 L819.69,1242.36 L815.19,1246.31 L816.62,1252.28 L811.65,1249.00 L806.68,1252.28 L808.11,1246.31 L803.61,1242.36 L809.46,1241.94Z" fill="#dddddd"/><path d="M829.60,1236.23 L831.79,1241.94 L837.64,1242.36 L833.14,1246.31 L834.57,1252.28 L829.60,1249.00 L824.63,1252.28 L826.06,1246.31 L821.56,1242.36 L827.41,1241.94Z" fill="#dddddd"/><path d="M847.55,1236.23 L849.74,1241.94 L855.59,1242.36 L851.09,1246.31 L852.52,1252.28 L847.55,1249.00 L842.58,1252.28 L844.01,1246.31 L839.51,1242.36 L845.36,1241.94Z" fill="#dddddd"/><path d="M865.50,1236.23 L867.69,1241.94 L873.54,1242.36 L869.04,1246.31 L870.47,1252.28 L865.50,1249.00 L860.53,1252.28 L861.96,1246.31 L857.46,1242.36 L863.31,1241.94Z" fill="#dddddd"/><path d="M682.40,1272.03 L684.59,1277.74 L690.44,1278.16 L685.94,1282.11 L687.37,1288.08 L682.40,1284.80 L677.43,1288.08 L678.86,1282.11 L674.36,1278.16 L680.21,1277.74Z" fill="#f5420e"/><path d="M700.35,1272.03 L702.54,1277.74 L708.39,1278.16 L703.89,1282.11 L705.32,1288.08 L700.35,1284.80 L695.38,1288.08 L696.81,1282.11 L692.31,1278.16 L698.16,1277.74Z" fill="#f5420e"/><path d="M718.30,1272.03 L720.49,1277.74 L726.34,1278.16 L721.84,1282.11 L723.27,1288.08 L718.30,1284.80 L713.33,1288.08 L714.76,1282.11 L710.26,1278.16 L716.11,1277.74Z" fill="#f5420e"/><path d="M736.25,1272.03 L738.44,1277.74 L744.29,1278.16 L739.79,1282.11 L741.22,1288.08 L736.25,1284.80 L731.28,1288.08 L732.71,1282.11 L728.21,1278.16 L734.06,1277.74Z" fill="#dddddd"/><path d="M754.20,1272.03 L756.39,1277.74 L762.24,1278.16 L757.74,1282.11 L759.17,1288.08 L754.20,1284.80 L749.23,1288.08 L750.66,1282.11 L746.16,1278.16 L752.01,1277.74Z" fill="#dddddd"/><path d="M793.70,1272.03 L795.89,1277.74 L801.74,1278.16 L797.24,1282.11 L798.67,1288.08 L793.70,1284.80 L788.73,1288.08 L790.16,1282.11 L785.66,1278.16 L791.51,1277.74Z" fill="#f5420e"/><path d="M811.65,1272.03 L813.84,1277.74 L819.69,1278.16 L815.19,1282.11 L816.62,1288.08 L811.65,1284.80 L806.68,1288.08 L808.11,1282.11 L803.61,1278.16 L809.46,1277.74Z" fill="#f5420e"/><path d="M829.60,1272.03 L831.79,1277.74 L837.64,1278.16 L833.14,1282.11 L834.57,1288.08 L829.60,1284.80 L824.63,1288.08 L826.06,1282.11 L821.56,1278.16 L827.41,1277.74Z" fill="#f5420e"/><path d="M847.55,1272.03 L849.74,1277.74 L855.59,1278.16 L851.09,1282.11 L852.52,1288.08 L847.55,1284.80 L842.58,1288.08 L844.01,1282.11 L839.51,1278.16 L845.36,1277.74Z" fill="#dddddd"/><path d="M865.50,1272.03 L867.69,1277.74 L873.54,1278.16 L869.04,1282.11 L870.47,1288.08 L865.50,1284.80 L860.53,1288.08 L861.96,1282.11 L857.46,1278.16 L863.31,1277.74Z" fill="#dddddd"/><path d="M682.40,1307.83 L684.59,1313.54 L690.44,1313.96 L685.94,1317.91 L687.37,1323.88 L682.40,1320.60 L677.43,1323.88 L678.86,1317.91 L674.36,1313.96 L680.21,1313.54Z" fill="#f5420e"/><path d="M700.35,1307.83 L702.54,1313.54 L708.39,1313.96 L703.89,1317.91 L705.32,1323.88 L700.35,1320.60 L695.38,1323.88 L696.81,1317.91 L692.31,1313.96 L698.16,1313.54Z" fill="#f5420e"/><path d="M718.30,1307.83 L720.49,1313.54 L726.34,1313.96 L721.84,1317.91 L723.27,1323.88 L718.30,1320.60 L713.33,1323.88 L714.76,1317.91 L710.26,1313.96 L716.11,1313.54Z" fill="#f5420e"/><path d="M736.25,1307.83 L738.44,1313.54 L744.29,1313.96 L739.79,1317.91 L741.22,1323.88 L736.25,1320.60 L731.28,1323.88 L732.71,1317.91 L728.21,1313.96 L734.06,1313.54Z" fill="#f5420e"/><path d="M754.20,1307.83 L756.39,1313.54 L762.24,1313.96 L757.74,1317.91 L759.17,1323.88 L754.20,1320.60 L749.23,1323.88 L750.66,1317.91 L746.16,1313.96 L752.01,1313.54Z" fill="#dddddd"/><path d="M793.70,1307.83 L795.89,1313.54 L801.74,1313.96 L797.24,1317.91 L798.67,1323.88 L793.70,1320.60 L788.73,1323.88 L790.16,1317.91 L785.66,1313.96 L791.51,1313.54Z" fill="#f5420e"/><path d="M811.65,1307.83 L813.84,1313.54 L819.69,1313.96 L815.19,1317.91 L816.62,1323.88 L811.65,1320.60 L806.68,1323.88 L808.11,1317.91 L803.61,1313.96 L809.46,1313.54Z" fill="#f5420e"/><path d="M829.60,1307.83 L831.79,1313.54 L837.64,1313.96 L833.14,1317.91 L834.57,1323.88 L829.60,1320.60 L824.63,1323.88 L826.06,1317.91 L821.56,1313.96 L827.41,1313.54Z" fill="#dddddd"/><path d="M847.55,1307.83 L849.74,1313.54 L855.59,1313.96 L851.09,1317.91 L852.52,1323.88 L847.55,1320.60 L842.58,1323.88 L844.01,1317.91 L839.51,1313.96 L845.36,1313.54Z" fill="#dddddd"/><path d="M865.50,1307.83 L867.69,1313.54 L873.54,1313.96 L869.04,1317.91 L870.47,1323.88 L865.50,1320.60 L860.53,1323.88 L861.96,1317.91 L857.46,1313.96 L863.31,1313.54Z" fill="#dddddd"/><path d="M682.40,1343.63 L684.59,1349.34 L690.44,1349.76 L685.94,1353.71 L687.37,1359.68 L682.40,1356.40 L677.43,1359.68 L678.86,1353.71 L674.36,1349.76 L680.21,1349.34Z" fill="#f5420e"/><path d="M700.35,1343.63 L702.54,1349.34 L708.39,1349.76 L703.89,1353.71 L705.32,1359.68 L700.35,1356.40 L695.38,1359.68 L696.81,1353.71 L692.31,1349.76 L698.16,1349.34Z" fill="#f5420e"/><path d="M718.30,1343.63 L720.49,1349.34 L726.34,1349.76 L721.84,1353.71 L723.27,1359.68 L718.30,1356.40 L713.33,1359.68 L714.76,1353.71 L710.26,1349.76 L716.11,1349.34Z" fill="#f5420e"/><path d="M736.25,1343.63 L738.44,1349.34 L744.29,1349.76 L739.79,1353.71 L741.22,1359.68 L736.25,1356.40 L731.28,1359.68 L732.71,1353.71 L728.21,1349.76 L734.06,1349.34Z" fill="#f5420e"/><path d="M754.20,1343.63 L756.39,1349.34 L762.24,1349.76 L757.74,1353.71 L759.17,1359.68 L754.20,1356.40 L749.23,1359.68 L750.66,1353.71 L746.16,1349.76 L752.01,1349.34Z" fill="#dddddd"/><path d="M793.70,1343.63 L795.89,1349.34 L801.74,1349.76 L797.24,1353.71 L798.67,1359.68 L793.70,1356.40 L788.73,1359.68 L790.16,1353.71 L785.66,1349.76 L791.51,1349.34Z" fill="#f5420e"/><path d="M811.65,1343.63 L813.84,1349.34 L819.69,1349.76 L815.19,1353.71 L816.62,1359.68 L811.65,1356.40 L806.68,1359.68 L808.11,1353.71 L803.61,1349.76 L809.46,1349.34Z" fill="#f5420e"/><path d="M829.60,1343.63 L831.79,1349.34 L837.64,1349.76 L833.14,1353.71 L834.57,1359.68 L829.60,1356.40 L824.63,1359.68 L826.06,1353.71 L821.56,1349.76 L827.41,1349.34Z" fill="#dddddd"/><path d="M847.55,1343.63 L849.74,1349.34 L855.59,1349.76 L851.09,1353.71 L852.52,1359.68 L847.55,1356.40 L842.58,1359.68 L844.01,1353.71 L839.51,1349.76 L845.36,1349.34Z" fill="#dddddd"/><path d="M865.50,1343.63 L867.69,1349.34 L873.54,1349.76 L869.04,1353.71 L870.47,1359.68 L865.50,1356.40 L860.53,1359.68 L861.96,1353.71 L857.46,1349.76 L863.31,1349.34Z" fill="#dddddd"/><path d="M682.40,1379.43 L684.59,1385.14 L690.44,1385.56 L685.94,1389.51 L687.37,1395.48 L682.40,1392.20 L677.43,1395.48 L678.86,1389.51 L674.36,1385.56 L680.21,1385.14Z" fill="#f5420e"/><path d="M700.35,1379.43 L702.54,1385.14 L708.39,1385.56 L703.89,1389.51 L705.32,1395.48 L700.35,1392.20 L695.38,1395.48 L696.81,1389.51 L692.31,1385.56 L698.16,1385.14Z" fill="#f5420e"/><path d="M718.30,1379.43 L720.49,1385.14 L726.34,1385.56 L721.84,1389.51 L723.27,1395.48 L718.30,1392.20 L713.33,1395.48 L714.76,1389.51 L710.26,1385.56 L716.11,1385.14Z" fill="#f5420e"/><path d="M736.25,1379.43 L738.44,1385.14 L744.29,1385.56 L739.79,1389.51 L741.22,1395.48 L736.25,1392.20 L731.28,1395.48 L732.71,1389.51 L728.21,1385.56 L734.06,1385.14Z" fill="#dddddd"/><path d="M754.20,1379.43 L756.39,1385.14 L762.24,1385.56 L757.74,1389.51 L759.17,1395.48 L754.20,1392.20 L749.23,1395.48 L750.66,1389.51 L746.16,1385.56 L752.01,1385.14Z" fill="#dddddd"/><path d="M793.70,1379.43 L795.89,1385.14 L801.74,1385.56 L797.24,1389.51 L798.67,1395.48 L793.70,1392.20 L788.73,1395.48 L790.16,1389.51 L785.66,1385.56 L791.51,1385.14Z" fill="#f5420e"/><path d="M811.65,1379.43 L813.84,1385.14 L819.69,1385.56 L815.19,1389.51 L816.62,1395.48 L811.65,1392.20 L806.68,1395.48 L808.11,1389.51 L803.61,1385.56 L809.46,1385.14Z" fill="#f5420e"/><path d="M829.60,1379.43 L831.79,1385.14 L837.64,1385.56 L833.14,1389.51 L834.57,1395.48 L829.60,1392.20 L824.63,1395.48 L826.06,1389.51 L821.56,1385.56 L827.41,1385.14Z" fill="#f5420e"/><path d="M847.55,1379.43 L849.74,1385.14 L855.59,1385.56 L851.09,1389.51 L852.52,1395.48 L847.55,1392.20 L842.58,1395.48 L844.01,1389.51 L839.51,1385.56 L845.36,1385.14Z" fill="#dddddd"/><path d="M865.50,1379.43 L867.69,1385.14 L873.54,1385.56 L869.04,1389.51 L870.47,1395.48 L865.50,1392.20 L860.53,1395.48 L861.96,1389.51 L857.46,1385.56 L863.31,1385.14Z" fill="#dddddd"/><path d="M682.40,1415.23 L684.59,1420.94 L690.44,1421.36 L685.94,1425.31 L687.37,1431.28 L682.40,1428.00 L677.43,1431.28 L678.86,1425.31 L674.36,1421.36 L680.21,1420.94Z" fill="#f5420e"/><path d="M700.35,1415.23 L702.54,1420.94 L708.39,1421.36 L703.89,1425.31 L705.32,1431.28 L700.35,1428.00 L695.38,1431.28 L696.81,1425.31 L692.31,1421.36 L698.16,1420.94Z" fill="#f5420e"/><path d="M718.30,1415.23 L720.49,1420.94 L726.34,1421.36 L721.84,1425.31 L723.27,1431.28 L718.30,1428.00 L713.33,1431.28 L714.76,1425.31 L710.26,1421.36 L716.11,1420.94Z" fill="#f5420e"/><path d="M736.25,1415.23 L738.44,1420.94 L744.29,1421.36 L739.79,1425.31 L741.22,1431.28 L736.25,1428.00 L731.28,1431.28 L732.71,1425.31 L728.21,1421.36 L734.06,1420.94Z" fill="#f5420e"/><path d="M754.20,1415.23 L756.39,1420.94 L762.24,1421.36 L757.74,1425.31 L759.17,1431.28 L754.20,1428.00 L749.23,1431.28 L750.66,1425.31 L746.16,1421.36 L752.01,1420.94Z" fill="#f5420e"/><path d="M793.70,1415.23 L795.89,1420.94 L801.74,1421.36 L797.24,1425.31 L798.67,1431.28 L793.70,1428.00 L788.73,1431.28 L790.16,1425.31 L785.66,1421.36 L791.51,1420.94Z" fill="#f5420e"/><path d="M811.65,1415.23 L813.84,1420.94 L819.69,1421.36 L815.19,1425.31 L816.62,1431.28 L811.65,1428.00 L806.68,1431.28 L808.11,1425.31 L803.61,1421.36 L809.46,1420.94Z" fill="#f5420e"/><path d="M829.60,1415.23 L831.79,1420.94 L837.64,1421.36 L833.14,1425.31 L834.57,1431.28 L829.60,1428.00 L824.63,1431.28 L826.06,1425.31 L821.56,1421.36 L827.41,1420.94Z" fill="#dddddd"/><path d="M847.55,1415.23 L849.74,1420.94 L855.59,1421.36 L851.09,1425.31 L852.52,1431.28 L847.55,1428.00 L842.58,1431.28 L844.01,1425.31 L839.51,1421.36 L845.36,1420.94Z" fill="#dddddd"/><path d="M865.50,1415.23 L867.69,1420.94 L873.54,1421.36 L869.04,1425.31 L870.47,1431.28 L865.50,1428.00 L860.53,1431.28 L861.96,1425.31 L857.46,1421.36 L863.31,1420.94Z" fill="#dddddd"/><path d="M682.40,1451.03 L684.59,1456.74 L690.44,1457.16 L685.94,1461.11 L687.37,1467.08 L682.40,1463.80 L677.43,1467.08 L678.86,1461.11 L674.36,1457.16 L680.21,1456.74Z" fill="#f5420e"/><path d="M700.35,1451.03 L702.54,1456.74 L708.39,1457.16 L703.89,1461.11 L705.32,1467.08 L700.35,1463.80 L695.38,1467.08 L696.81,1461.11 L692.31,1457.16 L698.16,1456.74Z" fill="#f5420e"/><path d="M718.30,1451.03 L720.49,1456.74 L726.34,1457.16 L721.84,1461.11 L723.27,1467.08 L718.30,1463.80 L713.33,1467.08 L714.76,1461.11 L710.26,1457.16 L716.11,1456.74Z" fill="#f5420e"/><path d="M736.25,1451.03 L738.44,1456.74 L744.29,1457.16 L739.79,1461.11 L741.22,1467.08 L736.25,1463.80 L731.28,1467.08 L732.71,1461.11 L728.21,1457.16 L734.06,1456.74Z" fill="#f5420e"/><path d="M754.20,1451.03 L756.39,1456.74 L762.24,1457.16 L757.74,1461.11 L759.17,1467.08 L754.20,1463.80 L749.23,1467.08 L750.66,1461.11 L746.16,1457.16 L752.01,1456.74Z" fill="#f5420e"/><path d="M793.70,1451.03 L795.89,1456.74 L801.74,1457.16 L797.24,1461.11 L798.67,1467.08 L793.70,1463.80 L788.73,1467.08 L790.16,1461.11 L785.66,1457.16 L791.51,1456.74Z" fill="#f5420e"/><path d="M811.65,1451.03 L813.84,1456.74 L819.69,1457.16 L815.19,1461.11 L816.62,1467.08 L811.65,1463.80 L806.68,1467.08 L808.11,1461.11 L803.61,1457.16 L809.46,1456.74Z" fill="#f5420e"/><path d="M829.60,1451.03 L831.79,1456.74 L837.64,1457.16 L833.14,1461.11 L834.57,1467.08 L829.60,1463.80 L824.63,1467.08 L826.06,1461.11 L821.56,1457.16 L827.41,1456.74Z" fill="#dddddd"/><path d="M847.55,1451.03 L849.74,1456.74 L855.59,1457.16 L851.09,1461.11 L852.52,1467.08 L847.55,1463.80 L842.58,1467.08 L844.01,1461.11 L839.51,1457.16 L845.36,1456.74Z" fill="#dddddd"/><path d="M865.50,1451.03 L867.69,1456.74 L873.54,1457.16 L869.04,1461.11 L870.47,1467.08 L865.50,1463.80 L860.53,1467.08 L861.96,1461.11 L857.46,1457.16 L863.31,1456.74Z" fill="#dddddd"/></svg>
<div style="left:57.30px;top:788.20px;width:1.00px;height:700.00px;background:rgba(0,0,0,.07);"></div>
<div style="left:104.00px;top:788.20px;width:2.90px;height:700.00px;background:rgba(255,255,255,.33);"></div>
<div style="left:191.30px;top:788.20px;width:1.00px;height:700.00px;background:rgba(0,0,0,.07);"></div>
<div style="left:663.70px;top:788.20px;width:1.00px;height:700.00px;background:rgba(0,0,0,.07);"></div>
<div style="left:775.40px;top:788.20px;width:1.00px;height:700.00px;background:rgba(0,0,0,.07);"></div>
<div style="left:883.40px;top:788.20px;width:1.00px;height:700.00px;background:rgba(0,0,0,.07);"></div>
<div style="left:1012.70px;top:788.20px;width:1.00px;height:700.00px;background:rgba(0,0,0,.07);"></div>
<div style="left:1354.60px;top:788.20px;width:1.00px;height:700.00px;background:rgba(0,0,0,.07);"></div>
<div style="left:1609.80px;top:788.20px;width:1.00px;height:700.00px;background:rgba(0,0,0,.07);"></div>
<div style="left:106.80px;top:833.30px;width:1919.20px;height:35.80px;background:#c4c4c4;"></div>
<span class="t" style="left:116.20px;top:844.30px;font-size:13px;line-height:13px;color:#2a2a2a;font-weight:700;letter-spacing:0.085px;">Category: 1. Oracle Database Installation and Patching Requirements</span>
<div style="left:58.40px;top:833.30px;width:45.60px;height:35.80px;background:#c4c4c4;"></div>
<div style="left:106.80px;top:1012.30px;width:1919.20px;height:35.80px;background:#c4c4c4;"></div>
<span class="t" style="left:116.20px;top:1023.30px;font-size:13px;line-height:13px;color:#2a2a2a;font-weight:700;letter-spacing:0.072px;">Category: 2. Oracle Parameter Settings</span>
<div style="left:58.40px;top:1012.30px;width:45.60px;height:35.80px;background:#c4c4c4;"></div>
<div style="left:2046.00px;top:161.00px;width:2.00px;height:1300.00px;background:#f6f5f5;"></div>
</body></html>
